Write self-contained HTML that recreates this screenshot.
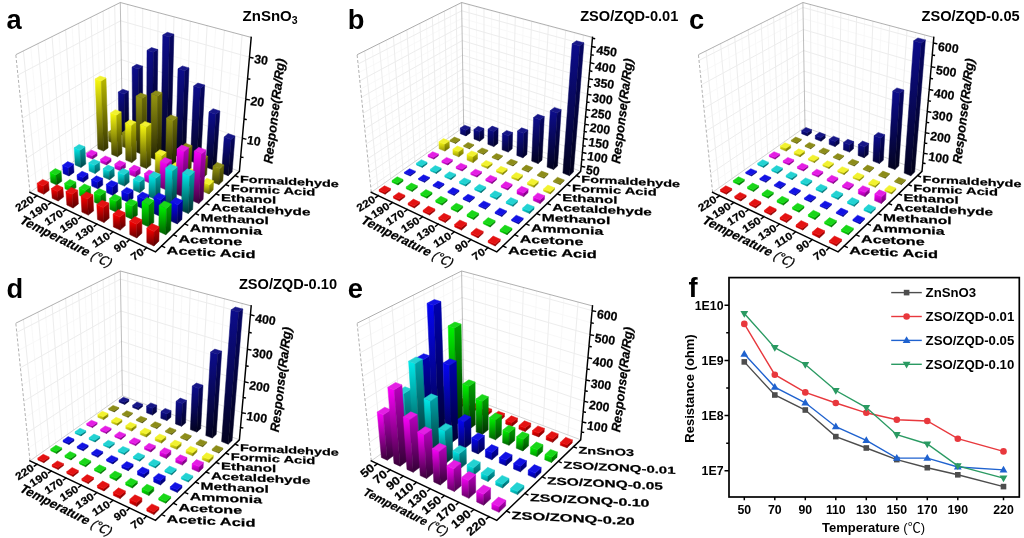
<!DOCTYPE html><html><head><meta charset="utf-8"><title>Figure</title><style>html,body{margin:0;padding:0;background:#fff}svg{display:block;filter:blur(0.4px)}.bars polygon{stroke-width:0.5;stroke-linejoin:round}.Lred0{fill:url(#Lred0);stroke:url(#Lred0)}.Rred0{fill:url(#Rred0);stroke:url(#Rred0)}.Lred1{fill:url(#Lred1);stroke:url(#Lred1)}.Rred1{fill:url(#Rred1);stroke:url(#Rred1)}.Lred2{fill:url(#Lred2);stroke:url(#Lred2)}.Rred2{fill:url(#Rred2);stroke:url(#Rred2)}.Tred{fill:#e41212;stroke:#e41212}.Lgreen0{fill:url(#Lgreen0);stroke:url(#Lgreen0)}.Rgreen0{fill:url(#Rgreen0);stroke:url(#Rgreen0)}.Lgreen1{fill:url(#Lgreen1);stroke:url(#Lgreen1)}.Rgreen1{fill:url(#Rgreen1);stroke:url(#Rgreen1)}.Lgreen2{fill:url(#Lgreen2);stroke:url(#Lgreen2)}.Rgreen2{fill:url(#Rgreen2);stroke:url(#Rgreen2)}.Tgreen{fill:#19d719;stroke:#19d719}.Lblue0{fill:url(#Lblue0);stroke:url(#Lblue0)}.Rblue0{fill:url(#Rblue0);stroke:url(#Rblue0)}.Lblue1{fill:url(#Lblue1);stroke:url(#Lblue1)}.Rblue1{fill:url(#Rblue1);stroke:url(#Rblue1)}.Lblue2{fill:url(#Lblue2);stroke:url(#Lblue2)}.Rblue2{fill:url(#Rblue2);stroke:url(#Rblue2)}.Tblue{fill:#1212e4;stroke:#1212e4}.Lcyan0{fill:url(#Lcyan0);stroke:url(#Lcyan0)}.Rcyan0{fill:url(#Rcyan0);stroke:url(#Rcyan0)}.Lcyan1{fill:url(#Lcyan1);stroke:url(#Lcyan1)}.Rcyan1{fill:url(#Rcyan1);stroke:url(#Rcyan1)}.Lcyan2{fill:url(#Lcyan2);stroke:url(#Lcyan2)}.Rcyan2{fill:url(#Rcyan2);stroke:url(#Rcyan2)}.Tcyan{fill:#23d2d2;stroke:#23d2d2}.Lmag0{fill:url(#Lmag0);stroke:url(#Lmag0)}.Rmag0{fill:url(#Rmag0);stroke:url(#Rmag0)}.Lmag1{fill:url(#Lmag1);stroke:url(#Lmag1)}.Rmag1{fill:url(#Rmag1);stroke:url(#Rmag1)}.Lmag2{fill:url(#Lmag2);stroke:url(#Lmag2)}.Rmag2{fill:url(#Rmag2);stroke:url(#Rmag2)}.Tmag{fill:#e41ee4;stroke:#e41ee4}.Lyel0{fill:url(#Lyel0);stroke:url(#Lyel0)}.Ryel0{fill:url(#Ryel0);stroke:url(#Ryel0)}.Lyel1{fill:url(#Lyel1);stroke:url(#Lyel1)}.Ryel1{fill:url(#Ryel1);stroke:url(#Ryel1)}.Lyel2{fill:url(#Lyel2);stroke:url(#Lyel2)}.Ryel2{fill:url(#Ryel2);stroke:url(#Ryel2)}.Tyel{fill:#f2f230;stroke:#f2f230}.Lolive0{fill:url(#Lolive0);stroke:url(#Lolive0)}.Rolive0{fill:url(#Rolive0);stroke:url(#Rolive0)}.Lolive1{fill:url(#Lolive1);stroke:url(#Lolive1)}.Rolive1{fill:url(#Rolive1);stroke:url(#Rolive1)}.Lolive2{fill:url(#Lolive2);stroke:url(#Lolive2)}.Rolive2{fill:url(#Rolive2);stroke:url(#Rolive2)}.Tolive{fill:#8c8c19;stroke:#8c8c19}.Lnavy0{fill:url(#Lnavy0);stroke:url(#Lnavy0)}.Rnavy0{fill:url(#Rnavy0);stroke:url(#Rnavy0)}.Lnavy1{fill:url(#Lnavy1);stroke:url(#Lnavy1)}.Rnavy1{fill:url(#Rnavy1);stroke:url(#Rnavy1)}.Lnavy2{fill:url(#Lnavy2);stroke:url(#Lnavy2)}.Rnavy2{fill:url(#Rnavy2);stroke:url(#Rnavy2)}.Tnavy{fill:#161687;stroke:#161687}</style></head><body><svg width="1024" height="538" viewBox="0 0 1024 538"><defs><linearGradient id="Lred0" x1="0" y1="0" x2="0" y2="1"><stop offset="0" stop-color="#ff0000"/><stop offset="1" stop-color="#990000"/></linearGradient><linearGradient id="Rred0" x1="0" y1="0" x2="0" y2="1"><stop offset="0" stop-color="#cd0000"/><stop offset="1" stop-color="#730000"/></linearGradient><linearGradient id="Lred1" x1="0" y1="0" x2="0" y2="1"><stop offset="0" stop-color="#ff0000"/><stop offset="1" stop-color="#660000"/></linearGradient><linearGradient id="Rred1" x1="0" y1="0" x2="0" y2="1"><stop offset="0" stop-color="#cd0000"/><stop offset="1" stop-color="#550000"/></linearGradient><linearGradient id="Lred2" x1="0" y1="0" x2="0" y2="1"><stop offset="0" stop-color="#ff0000"/><stop offset="1" stop-color="#3b0000"/></linearGradient><linearGradient id="Rred2" x1="0" y1="0" x2="0" y2="1"><stop offset="0" stop-color="#cd0000"/><stop offset="1" stop-color="#380000"/></linearGradient><linearGradient id="Lgreen0" x1="0" y1="0" x2="0" y2="1"><stop offset="0" stop-color="#00f500"/><stop offset="1" stop-color="#009300"/></linearGradient><linearGradient id="Rgreen0" x1="0" y1="0" x2="0" y2="1"><stop offset="0" stop-color="#00a500"/><stop offset="1" stop-color="#005c00"/></linearGradient><linearGradient id="Lgreen1" x1="0" y1="0" x2="0" y2="1"><stop offset="0" stop-color="#00f500"/><stop offset="1" stop-color="#006200"/></linearGradient><linearGradient id="Rgreen1" x1="0" y1="0" x2="0" y2="1"><stop offset="0" stop-color="#00a500"/><stop offset="1" stop-color="#004500"/></linearGradient><linearGradient id="Lgreen2" x1="0" y1="0" x2="0" y2="1"><stop offset="0" stop-color="#00f500"/><stop offset="1" stop-color="#003800"/></linearGradient><linearGradient id="Rgreen2" x1="0" y1="0" x2="0" y2="1"><stop offset="0" stop-color="#00a500"/><stop offset="1" stop-color="#002d00"/></linearGradient><linearGradient id="Lblue0" x1="0" y1="0" x2="0" y2="1"><stop offset="0" stop-color="#0505f5"/><stop offset="1" stop-color="#030393"/></linearGradient><linearGradient id="Rblue0" x1="0" y1="0" x2="0" y2="1"><stop offset="0" stop-color="#0000af"/><stop offset="1" stop-color="#000062"/></linearGradient><linearGradient id="Lblue1" x1="0" y1="0" x2="0" y2="1"><stop offset="0" stop-color="#0505f5"/><stop offset="1" stop-color="#020262"/></linearGradient><linearGradient id="Rblue1" x1="0" y1="0" x2="0" y2="1"><stop offset="0" stop-color="#0000af"/><stop offset="1" stop-color="#000049"/></linearGradient><linearGradient id="Lblue2" x1="0" y1="0" x2="0" y2="1"><stop offset="0" stop-color="#0505f5"/><stop offset="1" stop-color="#010138"/></linearGradient><linearGradient id="Rblue2" x1="0" y1="0" x2="0" y2="1"><stop offset="0" stop-color="#0000af"/><stop offset="1" stop-color="#000030"/></linearGradient><linearGradient id="Lcyan0" x1="0" y1="0" x2="0" y2="1"><stop offset="0" stop-color="#00ebeb"/><stop offset="1" stop-color="#008d8d"/></linearGradient><linearGradient id="Rcyan0" x1="0" y1="0" x2="0" y2="1"><stop offset="0" stop-color="#00a5aa"/><stop offset="1" stop-color="#005c5f"/></linearGradient><linearGradient id="Lcyan1" x1="0" y1="0" x2="0" y2="1"><stop offset="0" stop-color="#00ebeb"/><stop offset="1" stop-color="#005e5e"/></linearGradient><linearGradient id="Rcyan1" x1="0" y1="0" x2="0" y2="1"><stop offset="0" stop-color="#00a5aa"/><stop offset="1" stop-color="#004547"/></linearGradient><linearGradient id="Lcyan2" x1="0" y1="0" x2="0" y2="1"><stop offset="0" stop-color="#00ebeb"/><stop offset="1" stop-color="#003636"/></linearGradient><linearGradient id="Rcyan2" x1="0" y1="0" x2="0" y2="1"><stop offset="0" stop-color="#00a5aa"/><stop offset="1" stop-color="#002d2e"/></linearGradient><linearGradient id="Lmag0" x1="0" y1="0" x2="0" y2="1"><stop offset="0" stop-color="#fa00fa"/><stop offset="1" stop-color="#960096"/></linearGradient><linearGradient id="Rmag0" x1="0" y1="0" x2="0" y2="1"><stop offset="0" stop-color="#b900be"/><stop offset="1" stop-color="#68006a"/></linearGradient><linearGradient id="Lmag1" x1="0" y1="0" x2="0" y2="1"><stop offset="0" stop-color="#fa00fa"/><stop offset="1" stop-color="#640064"/></linearGradient><linearGradient id="Rmag1" x1="0" y1="0" x2="0" y2="1"><stop offset="0" stop-color="#b900be"/><stop offset="1" stop-color="#4d004f"/></linearGradient><linearGradient id="Lmag2" x1="0" y1="0" x2="0" y2="1"><stop offset="0" stop-color="#fa00fa"/><stop offset="1" stop-color="#3a003a"/></linearGradient><linearGradient id="Rmag2" x1="0" y1="0" x2="0" y2="1"><stop offset="0" stop-color="#b900be"/><stop offset="1" stop-color="#320034"/></linearGradient><linearGradient id="Lyel0" x1="0" y1="0" x2="0" y2="1"><stop offset="0" stop-color="#fafa0f"/><stop offset="1" stop-color="#969609"/></linearGradient><linearGradient id="Ryel0" x1="0" y1="0" x2="0" y2="1"><stop offset="0" stop-color="#b9b900"/><stop offset="1" stop-color="#686800"/></linearGradient><linearGradient id="Lyel1" x1="0" y1="0" x2="0" y2="1"><stop offset="0" stop-color="#fafa0f"/><stop offset="1" stop-color="#646406"/></linearGradient><linearGradient id="Ryel1" x1="0" y1="0" x2="0" y2="1"><stop offset="0" stop-color="#b9b900"/><stop offset="1" stop-color="#4d4d00"/></linearGradient><linearGradient id="Lyel2" x1="0" y1="0" x2="0" y2="1"><stop offset="0" stop-color="#fafa0f"/><stop offset="1" stop-color="#3a3a03"/></linearGradient><linearGradient id="Ryel2" x1="0" y1="0" x2="0" y2="1"><stop offset="0" stop-color="#b9b900"/><stop offset="1" stop-color="#323200"/></linearGradient><linearGradient id="Lolive0" x1="0" y1="0" x2="0" y2="1"><stop offset="0" stop-color="#96960f"/><stop offset="1" stop-color="#5a5a09"/></linearGradient><linearGradient id="Rolive0" x1="0" y1="0" x2="0" y2="1"><stop offset="0" stop-color="#6e6e05"/><stop offset="1" stop-color="#3e3e03"/></linearGradient><linearGradient id="Lolive1" x1="0" y1="0" x2="0" y2="1"><stop offset="0" stop-color="#96960f"/><stop offset="1" stop-color="#3c3c06"/></linearGradient><linearGradient id="Rolive1" x1="0" y1="0" x2="0" y2="1"><stop offset="0" stop-color="#6e6e05"/><stop offset="1" stop-color="#2e2e02"/></linearGradient><linearGradient id="Lolive2" x1="0" y1="0" x2="0" y2="1"><stop offset="0" stop-color="#96960f"/><stop offset="1" stop-color="#222203"/></linearGradient><linearGradient id="Rolive2" x1="0" y1="0" x2="0" y2="1"><stop offset="0" stop-color="#6e6e05"/><stop offset="1" stop-color="#1e1e01"/></linearGradient><linearGradient id="Lnavy0" x1="0" y1="0" x2="0" y2="1"><stop offset="0" stop-color="#0c0c8c"/><stop offset="1" stop-color="#070754"/></linearGradient><linearGradient id="Rnavy0" x1="0" y1="0" x2="0" y2="1"><stop offset="0" stop-color="#060664"/><stop offset="1" stop-color="#030338"/></linearGradient><linearGradient id="Lnavy1" x1="0" y1="0" x2="0" y2="1"><stop offset="0" stop-color="#0c0c8c"/><stop offset="1" stop-color="#050538"/></linearGradient><linearGradient id="Rnavy1" x1="0" y1="0" x2="0" y2="1"><stop offset="0" stop-color="#060664"/><stop offset="1" stop-color="#02022a"/></linearGradient><linearGradient id="Lnavy2" x1="0" y1="0" x2="0" y2="1"><stop offset="0" stop-color="#0c0c8c"/><stop offset="1" stop-color="#030320"/></linearGradient><linearGradient id="Rnavy2" x1="0" y1="0" x2="0" y2="1"><stop offset="0" stop-color="#060664"/><stop offset="1" stop-color="#02021b"/></linearGradient></defs><rect width="1024" height="538" fill="#fff"/><path d="M135.8,132.2 L135.1,6.4M149.5,137.4 L150.4,10.5M163.6,142.7 L166,14.7M178,148.2 L182.1,19M192.8,153.7 L198.7,23.4M207.9,159.5 L215.7,27.9M223.5,165.3 L233.2,32.6M43,183.1 L30.8,47.2M55.6,174.2 L45.1,40M67.7,165.7 L58.9,33.1M79.4,157.4 L72.1,26.5M90.7,149.5 L84.9,20.2M101.6,141.8 L97.1,14.1M112.2,134.4 L108.9,8.2M28.5,177.5 L122.2,113.6 L240.7,156.9M24.5,138.7 L121.6,78.1 L244,119M20.2,97.1 L120.9,40.5 L247.6,78.6" fill="none" stroke="#f6f6f6" stroke-width="0.8"/><path d="M129.1,129.7 L127.7,4.4M142.6,134.8 L142.7,8.4M156.5,140.1 L158.2,12.6M170.8,145.4 L174,16.8M185.4,150.9 L190.3,21.2M200.3,156.6 L207.1,25.6M215.7,162.4 L224.4,30.2M231.4,168.3 L242.1,35M36.6,187.6 L23.4,50.9M49.4,178.6 L38,43.6M61.7,169.9 L52.1,36.6M73.6,161.5 L65.6,29.8M85.1,153.4 L78.6,23.3M96.2,145.6 L91,17.1M107,138 L103.1,11.1M117.3,130.7 L114.7,5.3M26.5,158.4 L121.9,96.1 L242.3,138.3M22.4,118.3 L121.3,59.6 L245.8,99.1M17.9,75.1 L120.6,20.8 L249.5,57.2" fill="none" stroke="#ededed" stroke-width="1"/><g fill="none" stroke="#858585" stroke-width="0.65"><path d="M15.8,54.7 L120.3,2.5 L251.2,37.4"/><path d="M122.4,127.2 L120.3,2.5" stroke="#999"/><path d="M30,192.3 L15.8,54.7" stroke-dasharray="3 2" stroke="#888"/><path d="M30,192.3 L122.4,127.2 L239.4,171.3" stroke="#bbb"/></g><g class="bars"><polygon class="Lnavy2" points="119.1,133.7 124.7,135.9 124.1,94.1 118.3,92.1"/><polygon class="Rnavy2" points="124.7,135.9 128.9,132.9 128.4,91.2 124.1,94.1"/><polygon class="Tnavy" points="118.3,92.1 124.1,94.1 128.4,91.2 122.7,89.2"/><polygon class="Lnavy2" points="132.7,139 138.4,141.2 138.2,69 132.1,67.1"/><polygon class="Rnavy2" points="138.4,141.2 142.6,138 142.6,66.2 138.2,69"/><polygon class="Tnavy" points="132.1,67.1 138.2,69 142.6,66.2 136.6,64.3"/><polygon class="Lnavy2" points="146.6,144.3 152.5,146.6 153.3,52.2 147,50.3"/><polygon class="Rnavy2" points="152.5,146.6 156.6,143.4 157.8,49.5 153.3,52.2"/><polygon class="Tnavy" points="147,50.3 153.3,52.2 157.8,49.5 151.5,47.6"/><polygon class="Lnavy2" points="160.8,149.8 166.9,152.1 169.4,36.9 162.8,35"/><polygon class="Rnavy2" points="166.9,152.1 170.9,148.8 173.9,34.2 169.4,36.9"/><polygon class="Tnavy" points="162.8,35 169.4,36.9 173.9,34.2 167.3,32.3"/><polygon class="Lnavy2" points="175.5,155.4 181.6,157.8 184.7,70.8 178,68.8"/><polygon class="Rnavy2" points="181.6,157.8 185.6,154.4 189,67.9 184.7,70.8"/><polygon class="Tnavy" points="178,68.8 184.7,70.8 189,67.9 182.4,65.9"/><polygon class="Lnavy2" points="190.4,161.1 196.8,163.6 200.5,88.2 193.7,86"/><polygon class="Rnavy2" points="196.8,163.6 200.7,160.2 204.7,85.1 200.5,88.2"/><polygon class="Tnavy" points="193.7,86 200.5,88.2 204.7,85.1 197.9,83"/><polygon class="Lnavy2" points="205.8,167.1 212.3,169.5 215.8,114.2 209,111.9"/><polygon class="Rnavy2" points="212.3,169.5 216.2,166 219.9,111 215.8,114.2"/><polygon class="Tnavy" points="209,111.9 215.8,114.2 219.9,111 213.1,108.7"/><polygon class="Lnavy2" points="221.6,173.1 228.2,175.7 231.1,139.5 224.2,137"/><polygon class="Rnavy2" points="228.2,175.7 232.1,172.1 235,136 231.1,139.5"/><polygon class="Tnavy" points="224.2,137 231.1,139.5 235,136 228.1,133.6"/><polygon class="Lolive1" points="108.7,141.2 114.3,143.4 114.1,134.1 108.4,131.9"/><polygon class="Rolive1" points="114.3,143.4 118.7,140.2 118.5,131 114.1,134.1"/><polygon class="Tolive" points="108.4,131.9 114.1,134.1 118.5,131 112.8,128.8"/><polygon class="Lolive1" points="122.4,146.5 128.1,148.8 128,134.7 122.1,132.5"/><polygon class="Rolive1" points="128.1,148.8 132.4,145.6 132.3,131.6 128,134.7"/><polygon class="Tolive" points="122.1,132.5 128,134.7 132.3,131.6 126.5,129.4"/><polygon class="Lolive2" points="136.4,152.1 142.3,154.4 142.3,98.2 136.1,96.1"/><polygon class="Rolive2" points="142.3,154.4 146.6,151.1 146.8,95.2 142.3,98.2"/><polygon class="Tolive" points="136.1,96.1 142.3,98.2 146.8,95.2 140.6,93.1"/><polygon class="Lolive2" points="150.8,157.7 156.8,160.1 157.7,95.9 151.3,93.7"/><polygon class="Rolive2" points="156.8,160.1 161,156.8 162.1,92.8 157.7,95.9"/><polygon class="Tolive" points="151.3,93.7 157.7,95.9 162.1,92.8 155.7,90.7"/><polygon class="Lolive2" points="165.5,163.6 171.7,166 172.9,120.5 166.5,118.1"/><polygon class="Rolive2" points="171.7,166 175.9,162.6 177.3,117.2 172.9,120.5"/><polygon class="Tolive" points="166.5,118.1 172.9,120.5 177.3,117.2 170.8,114.9"/><polygon class="Lolive1" points="180.6,169.5 187,172.1 187.9,149.1 181.4,146.7"/><polygon class="Rolive1" points="187,172.1 191.1,168.5 192.1,145.7 187.9,149.1"/><polygon class="Tolive" points="181.4,146.7 187.9,149.1 192.1,145.7 185.6,143.3"/><polygon class="Lolive1" points="196.1,175.7 202.7,178.2 203.7,159.9 197,157.3"/><polygon class="Rolive1" points="202.7,178.2 206.7,174.6 207.8,156.3 203.7,159.9"/><polygon class="Tolive" points="197,157.3 203.7,159.9 207.8,156.3 201.2,153.8"/><polygon class="Lolive1" points="212.1,181.9 218.8,184.6 219.9,168.6 213.1,166"/><polygon class="Rolive1" points="218.8,184.6 222.8,180.9 223.9,164.9 219.9,168.6"/><polygon class="Tolive" points="213.1,166 219.9,168.6 223.9,164.9 217.1,162.4"/><polygon class="Lyel2" points="97.9,148.8 103.6,151.1 101.2,80.9 95.2,78.9"/><polygon class="Ryel2" points="103.6,151.1 108.1,147.9 106,78 101.2,80.9"/><polygon class="Tyel" points="95.2,78.9 101.2,80.9 106,78 100,76"/><polygon class="Lyel2" points="111.7,154.4 117.5,156.8 116.6,115.1 110.6,112.9"/><polygon class="Ryel2" points="117.5,156.8 122,153.4 121.2,111.9 116.6,115.1"/><polygon class="Tyel" points="110.6,112.9 116.6,115.1 121.2,111.9 115.2,109.7"/><polygon class="Lyel2" points="125.8,160.1 131.8,162.6 131.5,125.3 125.3,123"/><polygon class="Ryel2" points="131.8,162.6 136.2,159.1 136,122.1 131.5,125.3"/><polygon class="Tyel" points="125.3,123 131.5,125.3 136,122.1 129.9,119.8"/><polygon class="Lyel2" points="140.3,166 146.4,168.5 146.6,127 140.3,124.7"/><polygon class="Ryel2" points="146.4,168.5 150.8,165 151.1,123.7 146.6,127"/><polygon class="Tyel" points="140.3,124.7 146.6,127 151.1,123.7 144.8,121.4"/><polygon class="Lyel1" points="155.2,172 161.5,174.6 161.8,155.7 155.4,153.2"/><polygon class="Ryel1" points="161.5,174.6 165.8,171 166.2,152.2 161.8,155.7"/><polygon class="Tyel" points="155.4,153.2 161.8,155.7 166.2,152.2 159.8,149.7"/><polygon class="Lyel1" points="170.4,178.2 176.9,180.8 177.3,168.6 170.8,166.1"/><polygon class="Ryel1" points="176.9,180.8 181.1,177.2 181.6,165 177.3,168.6"/><polygon class="Tyel" points="170.8,166.1 177.3,168.6 181.6,165 175.1,162.5"/><polygon class="Lyel1" points="186.1,184.6 192.7,187.3 193.3,175 186.6,172.3"/><polygon class="Ryel1" points="192.7,187.3 196.9,183.5 197.5,171.2 193.3,175"/><polygon class="Tyel" points="186.6,172.3 193.3,175 197.5,171.2 190.9,168.6"/><polygon class="Lyel1" points="202.2,191.1 209,193.9 209.6,184.7 202.7,182"/><polygon class="Ryel1" points="209,193.9 213.1,190 213.7,180.9 209.6,184.7"/><polygon class="Tyel" points="202.7,182 209.6,184.7 213.7,180.9 206.9,178.2"/><polygon class="Lmag0" points="86.8,156.7 92.5,159.1 92.3,155.7 86.6,153.3"/><polygon class="Rmag0" points="92.5,159.1 97.1,155.8 97,152.4 92.3,155.7"/><polygon class="Tmag" points="86.6,153.3 92.3,155.7 97,152.4 91.3,150"/><polygon class="Lmag0" points="100.6,162.5 106.5,165 106.4,161.8 100.5,159.3"/><polygon class="Rmag0" points="106.5,165 111.1,161.5 111,158.3 106.4,161.8"/><polygon class="Tmag" points="100.5,159.3 106.4,161.8 111,158.3 105.2,155.9"/><polygon class="Lmag0" points="114.9,168.5 120.9,171 120.8,166.5 114.8,164.1"/><polygon class="Rmag0" points="120.9,171 125.5,167.4 125.4,163 120.8,166.5"/><polygon class="Tmag" points="114.8,164.1 120.8,166.5 125.4,163 119.4,160.6"/><polygon class="Lmag0" points="129.5,174.6 135.7,177.1 135.6,171.2 129.4,168.7"/><polygon class="Rmag0" points="135.7,177.1 140.2,173.5 140.2,167.6 135.6,171.2"/><polygon class="Tmag" points="129.4,168.7 135.6,171.2 140.2,167.6 134,165.1"/><polygon class="Lmag0" points="144.5,180.8 150.8,183.5 150.9,176.1 144.5,173.5"/><polygon class="Rmag0" points="150.8,183.5 155.3,179.7 155.4,172.5 150.9,176.1"/><polygon class="Tmag" points="144.5,173.5 150.9,176.1 155.4,172.5 149,169.9"/><polygon class="Lmag1" points="159.9,187.2 166.4,190 167,163.8 160.3,161.2"/><polygon class="Rmag1" points="166.4,190 170.8,186.1 171.5,160.1 167,163.8"/><polygon class="Tmag" points="160.3,161.2 167,163.8 171.5,160.1 164.8,157.5"/><polygon class="Lmag2" points="175.7,193.8 182.4,196.6 184.1,151.4 177.1,148.8"/><polygon class="Rmag2" points="182.4,196.6 186.7,192.7 188.6,147.7 184.1,151.4"/><polygon class="Tmag" points="177.1,148.8 184.1,151.4 188.6,147.7 181.6,145.1"/><polygon class="Lmag2" points="192,200.6 198.8,203.5 201.5,153.7 194.3,151"/><polygon class="Rmag2" points="198.8,203.5 203.1,199.4 205.9,149.9 201.5,153.7"/><polygon class="Tmag" points="194.3,151 201.5,153.7 205.9,149.9 198.7,147.3"/><polygon class="Lcyan1" points="75.2,165 81,167.4 80,150.2 74.2,147.8"/><polygon class="Rcyan1" points="81,167.4 85.8,164 84.9,146.8 80,150.2"/><polygon class="Tcyan" points="74.2,147.8 80,150.2 84.9,146.8 79.1,144.4"/><polygon class="Lcyan0" points="89.2,171 95.1,173.5 94.7,165.3 88.8,162.8"/><polygon class="Rcyan0" points="95.1,173.5 99.9,169.9 99.6,161.8 94.7,165.3"/><polygon class="Tcyan" points="88.8,162.8 94.7,165.3 99.6,161.8 93.6,159.3"/><polygon class="Lcyan1" points="103.5,177.1 109.6,179.7 109.3,171.2 103.2,168.6"/><polygon class="Rcyan1" points="109.6,179.7 114.3,176.1 114.1,167.6 109.3,171.2"/><polygon class="Tcyan" points="103.2,168.6 109.3,171.2 114.1,167.6 108,165.1"/><polygon class="Lcyan1" points="118.3,183.4 124.5,186.1 124.3,174.8 118,172.2"/><polygon class="Rcyan1" points="124.5,186.1 129.2,182.3 129,171.1 124.3,174.8"/><polygon class="Tcyan" points="118,172.2 124.3,174.8 129,171.1 122.8,168.5"/><polygon class="Lcyan1" points="133.4,189.9 139.8,192.7 139.8,182 133.3,179.3"/><polygon class="Rcyan1" points="139.8,192.7 144.4,188.8 144.4,178.2 139.8,182"/><polygon class="Tcyan" points="133.3,179.3 139.8,182 144.4,178.2 138,175.6"/><polygon class="Lcyan1" points="148.9,196.6 155.5,199.4 155.8,178.3 149.1,175.5"/><polygon class="Rcyan1" points="155.5,199.4 160.1,195.4 160.4,174.4 155.8,178.3"/><polygon class="Tcyan" points="149.1,175.5 155.8,178.3 160.4,174.4 153.7,171.7"/><polygon class="Lcyan2" points="164.9,203.4 171.7,206.3 172.6,170.8 165.7,168"/><polygon class="Rcyan2" points="171.7,206.3 176.2,202.3 177.3,166.9 172.6,170.8"/><polygon class="Tcyan" points="165.7,168 172.6,170.8 177.3,166.9 170.3,164.2"/><polygon class="Lcyan2" points="181.3,210.5 188.3,213.5 189.9,175.7 182.7,172.8"/><polygon class="Rcyan2" points="188.3,213.5 192.7,209.3 194.5,171.6 189.9,175.7"/><polygon class="Tcyan" points="182.7,172.8 189.9,175.7 194.5,171.6 187.3,168.8"/><polygon class="Lblue0" points="63.2,173.5 69,176 68.5,167.7 62.6,165.2"/><polygon class="Rblue0" points="69,176 74,172.4 73.5,164.1 68.5,167.7"/><polygon class="Tblue" points="62.6,165.2 68.5,167.7 73.5,164.1 67.7,161.6"/><polygon class="Lblue0" points="77.3,179.7 83.3,182.3 83,177.5 77,174.9"/><polygon class="Rblue0" points="83.3,182.3 88.2,178.6 88,173.8 83,177.5"/><polygon class="Tblue" points="77,174.9 83,177.5 88,173.8 82,171.2"/><polygon class="Lblue0" points="91.8,186.1 97.9,188.8 97.6,182.2 91.5,179.5"/><polygon class="Rblue0" points="97.9,188.8 102.8,185 102.6,178.4 97.6,182.2"/><polygon class="Tblue" points="91.5,179.5 97.6,182.2 102.6,178.4 96.4,175.8"/><polygon class="Lblue0" points="106.6,192.6 112.9,195.4 112.7,187 106.3,184.3"/><polygon class="Rblue0" points="112.9,195.4 117.8,191.5 117.6,183.1 112.7,187"/><polygon class="Tblue" points="106.3,184.3 112.7,187 117.6,183.1 111.3,180.4"/><polygon class="Lblue0" points="121.9,199.4 128.3,202.2 128.2,194.1 121.7,191.3"/><polygon class="Rblue0" points="128.3,202.2 133.1,198.2 133.1,190.2 128.2,194.1"/><polygon class="Tblue" points="121.7,191.3 128.2,194.1 133.1,190.2 126.6,187.4"/><polygon class="Lblue1" points="137.5,206.3 144.2,209.2 144.2,198.9 137.5,196"/><polygon class="Rblue1" points="144.2,209.2 148.9,205.1 149,194.9 144.2,198.9"/><polygon class="Tblue" points="137.5,196 144.2,198.9 149,194.9 142.3,192"/><polygon class="Lblue1" points="153.7,213.4 160.5,216.5 160.8,200 153.9,197.1"/><polygon class="Rblue1" points="160.5,216.5 165.2,212.2 165.5,195.9 160.8,200"/><polygon class="Tblue" points="153.9,197.1 160.8,200 165.5,195.9 158.6,192.9"/><polygon class="Lblue1" points="170.3,220.8 177.3,223.9 177.9,204.8 170.8,201.8"/><polygon class="Rblue1" points="177.3,223.9 181.9,219.5 182.6,200.6 177.9,204.8"/><polygon class="Tblue" points="170.8,201.8 177.9,204.8 182.6,200.6 175.5,197.6"/><polygon class="Lgreen1" points="50.8,182.3 56.7,185 55.9,174.9 50,172.3"/><polygon class="Rgreen1" points="56.7,185 61.8,181.2 61.1,171.2 55.9,174.9"/><polygon class="Tgreen" points="50,172.3 55.9,174.9 61.1,171.2 55.3,168.6"/><polygon class="Lgreen0" points="65,188.8 71,191.5 70.6,186 64.6,183.3"/><polygon class="Rgreen0" points="71,191.5 76.1,187.6 75.8,182.1 70.6,186"/><polygon class="Tgreen" points="64.6,183.3 70.6,186 75.8,182.1 69.8,179.5"/><polygon class="Lgreen0" points="79.6,195.4 85.7,198.2 85.3,190.6 79.1,187.9"/><polygon class="Rgreen0" points="85.7,198.2 90.8,194.2 90.5,186.7 85.3,190.6"/><polygon class="Tgreen" points="79.1,187.9 85.3,190.6 90.5,186.7 84.3,184"/><polygon class="Lgreen1" points="94.5,202.2 100.8,205.1 100.5,195.5 94.1,192.6"/><polygon class="Rgreen1" points="100.8,205.1 105.9,201 105.6,191.4 100.5,195.5"/><polygon class="Tgreen" points="94.1,192.6 100.5,195.5 105.6,191.4 99.2,188.6"/><polygon class="Lgreen1" points="109.9,209.2 116.4,212.2 116.1,201.3 109.6,198.4"/><polygon class="Rgreen1" points="116.4,212.2 121.4,208 121.2,197.2 116.1,201.3"/><polygon class="Tgreen" points="109.6,198.4 116.1,201.3 121.2,197.2 114.6,194.3"/><polygon class="Lgreen1" points="125.7,216.4 132.4,219.5 132.3,206.2 125.5,203.2"/><polygon class="Rgreen1" points="132.4,219.5 137.4,215.2 137.3,202 132.3,206.2"/><polygon class="Tgreen" points="125.5,203.2 132.3,206.2 137.3,202 130.5,199"/><polygon class="Lgreen1" points="142,223.8 148.9,227 149,204.8 142,201.8"/><polygon class="Rgreen1" points="148.9,227 153.8,222.6 154,200.5 149,204.8"/><polygon class="Tgreen" points="142,201.8 149,204.8 154,200.5 147,197.5"/><polygon class="Lgreen1" points="158.7,231.5 165.8,234.7 166.5,208.4 159.2,205.2"/><polygon class="Rgreen1" points="165.8,234.7 170.7,230.1 171.4,204 166.5,208.4"/><polygon class="Tgreen" points="159.2,205.2 166.5,208.4 171.4,204 164.1,200.9"/><polygon class="Lred0" points="37.9,191.5 43.8,194.2 43.1,186 37.2,183.2"/><polygon class="Rred0" points="43.8,194.2 49.2,190.3 48.5,182.1 43.1,186"/><polygon class="Tred" points="37.2,183.2 43.1,186 48.5,182.1 42.6,179.4"/><polygon class="Lred1" points="52.2,198.2 58.2,201 57.5,191.4 51.4,188.6"/><polygon class="Rred1" points="58.2,201 63.6,197 62.9,187.5 57.5,191.4"/><polygon class="Tred" points="51.4,188.6 57.5,191.4 62.9,187.5 56.8,184.7"/><polygon class="Lred1" points="66.9,205 73.1,208 72.2,194.2 65.9,191.4"/><polygon class="Rred1" points="73.1,208 78.4,203.9 77.6,190.2 72.2,194.2"/><polygon class="Tred" points="65.9,191.4 72.2,194.2 77.6,190.2 71.3,187.4"/><polygon class="Lred1" points="81.9,212.1 88.3,215.1 87.5,199 81,196"/><polygon class="Rred1" points="88.3,215.1 93.6,210.9 92.9,194.8 87.5,199"/><polygon class="Tred" points="81,196 87.5,199 92.9,194.8 86.4,191.9"/><polygon class="Lred1" points="97.5,219.4 104,222.5 103.5,207.4 96.8,204.4"/><polygon class="Rred1" points="104,222.5 109.2,218.2 108.8,203.1 103.5,207.4"/><polygon class="Tred" points="96.8,204.4 103.5,207.4 108.8,203.1 102.1,200.2"/><polygon class="Lred1" points="113.4,226.9 120.2,230.1 119.9,217.1 113.1,214"/><polygon class="Rred1" points="120.2,230.1 125.3,225.6 125.1,212.7 119.9,217.1"/><polygon class="Tred" points="113.1,214 119.9,217.1 125.1,212.7 118.3,209.6"/><polygon class="Lred1" points="129.8,234.6 136.8,237.9 136.7,224.3 129.7,221.1"/><polygon class="Rred1" points="136.8,237.9 141.9,233.3 141.9,219.8 136.7,224.3"/><polygon class="Tred" points="129.7,221.1 136.7,224.3 141.9,219.8 134.9,216.6"/><polygon class="Lred1" points="146.8,242.6 153.9,246 154.1,231.5 146.8,228.1"/><polygon class="Rred1" points="153.9,246 158.9,241.2 159.2,226.8 154.1,231.5"/><polygon class="Tred" points="146.8,228.1 154.1,231.5 159.2,226.8 151.9,223.5"/></g><g fill="none" stroke="#000" stroke-width="1.45" stroke-linecap="square"><path d="M30,192.3 L155.5,251.8 L239.4,171.3 L251.2,37.4M37,195.6 L34.3,197.6M51.4,202.4 L48.6,204.4M66.2,209.4 L63.4,211.5M81.4,216.6 L78.7,218.8M97,224 L94.3,226.3M113.1,231.7 L110.4,234M129.7,239.5 L127.1,241.9M146.7,247.6 L144.2,250.1M161.5,246 L164.6,247.4M173.3,234.7 L176.4,236.1M184.6,223.9 L187.6,225.2M195.4,213.5 L198.4,214.8M205.9,203.5 L208.8,204.7M215.9,193.9 L218.8,195M225.6,184.6 L228.5,185.7M234.9,175.7 L237.8,176.8M242.3,138.3 L245.7,139.1M245.8,99.1 L249.2,99.9M249.5,57.2 L252.9,58M240.7,156.9 L242.8,157.4M244,119 L246.1,119.5M247.6,78.6 L249.7,79.1"/></g><g font-family="Liberation Sans, sans-serif" font-weight="bold" fill="#000" stroke="#000" stroke-width="0.25"><text transform="translate(246.6,144.1) rotate(8)" font-size="12.3">10</text><text transform="translate(250.1,104.9) rotate(8)" font-size="12.3">20</text><text transform="translate(253.8,63) rotate(8)" font-size="12.3">30</text><text transform="translate(34.9,201.2) rotate(-33) scale(1.08,0.96)" text-anchor="end" font-size="11">220</text><text transform="translate(49.2,208) rotate(-33) scale(1.08,0.96)" text-anchor="end" font-size="11">190</text><text transform="translate(64,215.1) rotate(-33) scale(1.08,0.96)" text-anchor="end" font-size="11">170</text><text transform="translate(79.3,222.4) rotate(-33) scale(1.08,0.96)" text-anchor="end" font-size="11">150</text><text transform="translate(94.9,229.9) rotate(-33) scale(1.08,0.96)" text-anchor="end" font-size="11">130</text><text transform="translate(111,237.6) rotate(-33) scale(1.08,0.96)" text-anchor="end" font-size="11">110</text><text transform="translate(127.7,245.5) rotate(-33) scale(1.08,0.96)" text-anchor="end" font-size="11">90</text><text transform="translate(144.8,253.7) rotate(-33) scale(1.08,0.96)" text-anchor="end" font-size="11">70</text><text transform="matrix(1.370,0.069,0,0.900,166.6,253.9)" font-size="12">Acetic Acid</text><text transform="matrix(1.347,0.067,0,0.888,178.4,242.4)" font-size="12">Acetone</text><text transform="matrix(1.323,0.066,0,0.876,189.7,231.4)" font-size="12">Ammonia</text><text transform="matrix(1.300,0.065,0,0.864,200.5,220.9)" font-size="12">Methanol</text><text transform="matrix(1.276,0.064,0,0.852,211,210.7)" font-size="12">Acetaldehyde</text><text transform="matrix(1.253,0.063,0,0.840,221,200.9)" font-size="12">Ethanol</text><text transform="matrix(1.229,0.061,0,0.828,230.7,191.5)" font-size="12">Formic Acid</text><text transform="matrix(1.206,0.060,0,0.816,240,182.4)" font-size="12">Formaldehyde</text><text transform="translate(63.5,245) rotate(26.5) skewX(-14)" text-anchor="middle" font-size="12.7">Temperature <tspan font-weight="normal" font-family="Liberation Sans, Noto Sans CJK SC, sans-serif">(℃)</tspan></text><text transform="translate(278.6,111.5) rotate(-83)" text-anchor="middle" font-style="italic" font-size="12.7">Response(Ra/Rg)</text><text x="242.6" y="20.9" font-size="14.6" stroke="none"><tspan font-size="15">ZnSnO</tspan><tspan font-size="10.5" dy="3.5">3</tspan></text><text x="6.5" y="29" font-size="27.3" stroke="none">a</text></g><path d="M477.1,132.2 L476.4,6.4M490.8,137.4 L491.7,10.5M504.9,142.7 L507.3,14.7M519.3,148.2 L523.4,19M534.1,153.7 L540,23.4M549.2,159.5 L557,27.9M564.8,165.3 L574.5,32.6M384.3,183.1 L372.1,47.2M396.9,174.2 L386.4,40M409,165.7 L400.2,33.1M420.7,157.4 L413.4,26.5M432,149.5 L426.2,20.2M442.9,141.8 L438.4,14.1M453.5,134.4 L450.2,8.2M370,180.1 L463.5,116 L581.8,159.4M368.6,165.9 L463.3,103 L583,145.6M367.1,151.3 L463.1,89.7 L584.2,131.4M365.5,136.4 L462.8,76.1 L585.5,116.8M364,121.1 L462.6,62.1 L586.8,101.9M362.3,105.3 L462.4,47.9 L588.2,86.5M360.7,89.1 L462.1,33.3 L589.6,70.8M359,72.5 L461.9,18.4 L591,54.6M357.2,55.4 L461.6,3.1 L592.4,38.1" fill="none" stroke="#f6f6f6" stroke-width="0.8"/><path d="M470.4,129.7 L469,4.4M483.9,134.8 L484,8.4M497.8,140.1 L499.5,12.6M512.1,145.4 L515.3,16.8M526.7,150.9 L531.6,21.2M541.6,156.6 L548.4,25.6M557,162.4 L565.7,30.2M572.7,168.3 L583.4,35M377.9,187.6 L364.7,50.9M390.7,178.6 L379.3,43.6M403,169.9 L393.4,36.6M414.9,161.5 L406.9,29.8M426.4,153.4 L419.9,23.3M437.5,145.6 L432.3,17.1M448.3,138 L444.4,11.1M458.6,130.7 L456,5.3M370.7,187 L463.6,122.4 L581.2,166.2M369.3,173 L463.4,109.5 L582.4,152.5M367.8,158.7 L463.2,96.3 L583.6,138.5M366.3,143.9 L462.9,82.9 L584.9,124.1M364.8,128.8 L462.7,69.1 L586.2,109.4M363.2,113.2 L462.5,55.1 L587.5,94.2M361.5,97.3 L462.2,40.6 L588.9,78.7M359.8,80.9 L462,25.9 L590.3,62.8M358.1,64 L461.7,10.8 L591.7,46.4" fill="none" stroke="#ededed" stroke-width="1"/><g fill="none" stroke="#858585" stroke-width="0.65"><path d="M357.1,54.7 L461.6,2.5 L592.5,37.4"/><path d="M463.7,127.2 L461.6,2.5" stroke="#999"/><path d="M371.3,192.3 L357.1,54.7" stroke-dasharray="3 2" stroke="#888"/><path d="M371.3,192.3 L463.7,127.2 L580.7,171.3" stroke="#bbb"/></g><g class="bars"><polygon class="Lnavy0" points="460.4,133.7 466,135.9 465.9,130.3 460.3,128.1"/><polygon class="Rnavy0" points="466,135.9 470.2,132.9 470.2,127.3 465.9,130.3"/><polygon class="Tnavy" points="460.3,128.1 465.9,130.3 470.2,127.3 464.6,125.2"/><polygon class="Lnavy1" points="474,139 479.7,141.2 479.7,131.5 473.9,129.4"/><polygon class="Rnavy1" points="479.7,141.2 483.9,138 483.9,128.5 479.7,131.5"/><polygon class="Tnavy" points="473.9,129.4 479.7,131.5 483.9,128.5 478.1,126.3"/><polygon class="Lnavy1" points="487.9,144.3 493.8,146.6 493.9,131.4 488,129.2"/><polygon class="Rnavy1" points="493.8,146.6 497.9,143.4 498.1,128.3 493.9,131.4"/><polygon class="Tnavy" points="488,129.2 493.9,131.4 498.1,128.3 492.1,126.1"/><polygon class="Lnavy1" points="502.1,149.8 508.2,152.1 508.5,135.8 502.4,133.5"/><polygon class="Rnavy1" points="508.2,152.1 512.2,148.8 512.6,132.6 508.5,135.8"/><polygon class="Tnavy" points="502.4,133.5 508.5,135.8 512.6,132.6 506.6,130.4"/><polygon class="Lnavy1" points="516.8,155.4 522.9,157.8 523.8,133.3 517.5,131"/><polygon class="Rnavy1" points="522.9,157.8 526.9,154.4 527.9,130 523.8,133.3"/><polygon class="Tnavy" points="517.5,131 523.8,133.3 527.9,130 521.6,127.8"/><polygon class="Lnavy2" points="531.7,161.1 538.1,163.6 540.2,119.8 533.6,117.5"/><polygon class="Rnavy2" points="538.1,163.6 542,160.2 544.3,116.6 540.2,119.8"/><polygon class="Tnavy" points="533.6,117.5 540.2,119.8 544.3,116.6 537.7,114.3"/><polygon class="Lnavy2" points="547.1,167.1 553.6,169.5 557.2,112.9 550.3,110.6"/><polygon class="Rnavy2" points="553.6,169.5 557.5,166 561.2,109.7 557.2,112.9"/><polygon class="Tnavy" points="550.3,110.6 557.2,112.9 561.2,109.7 554.4,107.4"/><polygon class="Lnavy2" points="562.9,173.1 569.5,175.7 579.7,45.7 572.2,43.7"/><polygon class="Rnavy2" points="569.5,175.7 573.4,172.1 583.9,42.8 579.7,45.7"/><polygon class="Tnavy" points="572.2,43.7 579.7,45.7 583.9,42.8 576.4,40.7"/><polygon class="Lolive0" points="450,141.2 455.6,143.4 455.6,142.5 450,140.2"/><polygon class="Rolive0" points="455.6,143.4 460,140.2 460,139.3 455.6,142.5"/><polygon class="Tolive" points="450,140.2 455.6,142.5 460,139.3 454.3,137.1"/><polygon class="Lolive0" points="463.7,146.5 469.4,148.8 469.4,147.9 463.7,145.6"/><polygon class="Rolive0" points="469.4,148.8 473.7,145.6 473.7,144.7 469.4,147.9"/><polygon class="Tolive" points="463.7,145.6 469.4,147.9 473.7,144.7 468,142.4"/><polygon class="Lolive0" points="477.7,152.1 483.6,154.4 483.6,153.5 477.7,151.1"/><polygon class="Rolive0" points="483.6,154.4 487.9,151.1 487.9,150.2 483.6,153.5"/><polygon class="Tolive" points="477.7,151.1 483.6,153.5 487.9,150.2 482,147.9"/><polygon class="Lolive0" points="492.1,157.7 498.1,160.1 498.1,159.2 492.1,156.8"/><polygon class="Rolive0" points="498.1,160.1 502.3,156.8 502.4,155.8 498.1,159.2"/><polygon class="Tolive" points="492.1,156.8 498.1,159.2 502.4,155.8 496.3,153.5"/><polygon class="Lolive0" points="506.8,163.6 513,166 513,165.1 506.8,162.6"/><polygon class="Rolive0" points="513,166 517.2,162.6 517.2,161.6 513,165.1"/><polygon class="Tolive" points="506.8,162.6 513,165.1 517.2,161.6 511,159.2"/><polygon class="Lolive0" points="521.9,169.5 528.3,172.1 528.3,171.1 522,168.6"/><polygon class="Rolive0" points="528.3,172.1 532.4,168.5 532.4,167.5 528.3,171.1"/><polygon class="Tolive" points="522,168.6 528.3,171.1 532.4,167.5 526.1,165.1"/><polygon class="Lolive0" points="537.4,175.7 544,178.2 544.1,177.3 537.5,174.7"/><polygon class="Rolive0" points="544,178.2 548,174.6 548.1,173.6 544.1,177.3"/><polygon class="Tolive" points="537.5,174.7 544.1,177.3 548.1,173.6 541.5,171.1"/><polygon class="Lolive0" points="553.4,181.9 560.1,184.6 560.2,183.6 553.4,181"/><polygon class="Rolive0" points="560.1,184.6 564.1,180.9 564.1,179.9 560.2,183.6"/><polygon class="Tolive" points="553.4,181 560.2,183.6 564.1,179.9 557.4,177.3"/><polygon class="Lyel0" points="439.2,148.8 444.9,151.1 444.7,144.1 438.9,141.8"/><polygon class="Ryel0" points="444.9,151.1 449.4,147.9 449.2,140.9 444.7,144.1"/><polygon class="Tyel" points="438.9,141.8 444.7,144.1 449.2,140.9 443.5,138.6"/><polygon class="Lyel0" points="453,154.4 458.8,156.8 458.7,151.6 452.9,149.2"/><polygon class="Ryel0" points="458.8,156.8 463.3,153.4 463.2,148.3 458.7,151.6"/><polygon class="Tyel" points="452.9,149.2 458.7,151.6 463.2,148.3 457.3,146"/><polygon class="Lyel0" points="467.1,160.1 473.1,162.6 473,156.6 467,154.2"/><polygon class="Ryel0" points="473.1,162.6 477.5,159.1 477.5,153.2 473,156.6"/><polygon class="Tyel" points="467,154.2 473,156.6 477.5,153.2 471.5,150.9"/><polygon class="Lyel0" points="481.6,166 487.7,168.5 487.7,166.3 481.6,163.9"/><polygon class="Ryel0" points="487.7,168.5 492.1,165 492.1,162.9 487.7,166.3"/><polygon class="Tyel" points="481.6,163.9 487.7,166.3 492.1,162.9 486,160.4"/><polygon class="Lyel0" points="496.5,172 502.8,174.6 502.8,172.4 496.5,169.9"/><polygon class="Ryel0" points="502.8,174.6 507.1,171 507.1,168.8 502.8,172.4"/><polygon class="Tyel" points="496.5,169.9 502.8,172.4 507.1,168.8 500.8,166.3"/><polygon class="Lyel0" points="511.7,178.2 518.2,180.8 518.3,178.7 511.8,176.1"/><polygon class="Ryel0" points="518.2,180.8 522.4,177.2 522.5,175 518.3,178.7"/><polygon class="Tyel" points="511.8,176.1 518.3,178.7 522.5,175 516.1,172.4"/><polygon class="Lyel0" points="527.4,184.6 534,187.3 534.1,185.1 527.5,182.4"/><polygon class="Ryel0" points="534,187.3 538.2,183.5 538.3,181.3 534.1,185.1"/><polygon class="Tyel" points="527.5,182.4 534.1,185.1 538.3,181.3 531.7,178.7"/><polygon class="Lyel0" points="543.5,191.1 550.3,193.9 550.5,191.7 543.6,188.9"/><polygon class="Ryel0" points="550.3,193.9 554.4,190 554.6,187.8 550.5,191.7"/><polygon class="Tyel" points="543.6,188.9 550.5,191.7 554.6,187.8 547.8,185.1"/><polygon class="Lmag0" points="428.1,156.7 433.8,159.1 433.7,157.4 428,155"/><polygon class="Rmag0" points="433.8,159.1 438.4,155.8 438.4,154 433.7,157.4"/><polygon class="Tmag" points="428,155 433.7,157.4 438.4,154 432.7,151.7"/><polygon class="Lmag0" points="441.9,162.5 447.8,165 447.7,163.2 441.9,160.8"/><polygon class="Rmag0" points="447.8,165 452.4,161.5 452.4,159.8 447.7,163.2"/><polygon class="Tmag" points="441.9,160.8 447.7,163.2 452.4,159.8 446.5,157.4"/><polygon class="Lmag0" points="456.2,168.5 462.2,171 462.2,169.2 456.1,166.7"/><polygon class="Rmag0" points="462.2,171 466.8,167.4 466.7,165.7 462.2,169.2"/><polygon class="Tmag" points="456.1,166.7 462.2,169.2 466.7,165.7 460.7,163.2"/><polygon class="Lmag0" points="470.8,174.6 477,177.1 476.9,175.3 470.8,172.8"/><polygon class="Rmag0" points="477,177.1 481.5,173.5 481.5,171.7 476.9,175.3"/><polygon class="Tmag" points="470.8,172.8 476.9,175.3 481.5,171.7 475.3,169.2"/><polygon class="Lmag0" points="485.8,180.8 492.1,183.5 492.1,181.6 485.8,179"/><polygon class="Rmag0" points="492.1,183.5 496.6,179.7 496.6,177.9 492.1,181.6"/><polygon class="Tmag" points="485.8,179 492.1,181.6 496.6,177.9 490.3,175.3"/><polygon class="Lmag0" points="501.2,187.2 507.7,190 507.7,188.1 501.2,185.4"/><polygon class="Rmag0" points="507.7,190 512.1,186.1 512.1,184.3 507.7,188.1"/><polygon class="Tmag" points="501.2,185.4 507.7,188.1 512.1,184.3 505.6,181.6"/><polygon class="Lmag0" points="517,193.8 523.7,196.6 523.8,192.9 517.1,190.1"/><polygon class="Rmag0" points="523.7,196.6 528,192.7 528.2,189 523.8,192.9"/><polygon class="Tmag" points="517.1,190.1 523.8,192.9 528.2,189 521.5,186.3"/><polygon class="Lmag0" points="533.3,200.6 540.1,203.5 540.3,199.8 533.4,196.9"/><polygon class="Rmag0" points="540.1,203.5 544.4,199.4 544.6,195.7 540.3,199.8"/><polygon class="Tmag" points="533.4,196.9 540.3,199.8 544.6,195.7 537.7,192.9"/><polygon class="Lcyan0" points="416.5,165 422.3,167.4 422.2,165.7 416.4,163.2"/><polygon class="Rcyan0" points="422.3,167.4 427.1,164 427,162.2 422.2,165.7"/><polygon class="Tcyan" points="416.4,163.2 422.2,165.7 427,162.2 421.3,159.7"/><polygon class="Lcyan0" points="430.5,171 436.4,173.5 436.3,171.7 430.4,169.2"/><polygon class="Rcyan0" points="436.4,173.5 441.2,169.9 441.1,168.1 436.3,171.7"/><polygon class="Tcyan" points="430.4,169.2 436.3,171.7 441.1,168.1 435.2,165.6"/><polygon class="Lcyan0" points="444.8,177.1 450.9,179.7 450.8,177.9 444.8,175.3"/><polygon class="Rcyan0" points="450.9,179.7 455.6,176.1 455.6,174.2 450.8,177.9"/><polygon class="Tcyan" points="444.8,175.3 450.8,177.9 455.6,174.2 449.5,171.7"/><polygon class="Lcyan0" points="459.6,183.4 465.8,186.1 465.8,184.3 459.5,181.6"/><polygon class="Rcyan0" points="465.8,186.1 470.5,182.3 470.5,180.5 465.8,184.3"/><polygon class="Tcyan" points="459.5,181.6 465.8,184.3 470.5,180.5 464.2,177.9"/><polygon class="Lcyan0" points="474.7,189.9 481.1,192.7 481.1,190.8 474.7,188.1"/><polygon class="Rcyan0" points="481.1,192.7 485.7,188.8 485.7,187 481.1,190.8"/><polygon class="Tcyan" points="474.7,188.1 481.1,190.8 485.7,187 479.3,184.3"/><polygon class="Lcyan0" points="490.2,196.6 496.8,199.4 496.8,197.6 490.2,194.7"/><polygon class="Rcyan0" points="496.8,199.4 501.4,195.4 501.4,193.6 496.8,197.6"/><polygon class="Tcyan" points="490.2,194.7 496.8,197.6 501.4,193.6 494.8,190.8"/><polygon class="Lcyan0" points="506.2,203.4 513,206.3 513,204.5 506.2,201.6"/><polygon class="Rcyan0" points="513,206.3 517.5,202.3 517.5,200.4 513,204.5"/><polygon class="Tcyan" points="506.2,201.6 513,204.5 517.5,200.4 510.8,197.6"/><polygon class="Lcyan0" points="522.6,210.5 529.6,213.5 529.7,211 522.7,208"/><polygon class="Rcyan0" points="529.6,213.5 534,209.3 534.1,206.8 529.7,211"/><polygon class="Tcyan" points="522.7,208 529.7,211 534.1,206.8 527.2,203.9"/><polygon class="Lblue0" points="404.5,173.5 410.3,176 410.3,174.8 404.4,172.3"/><polygon class="Rblue0" points="410.3,176 415.3,172.4 415.3,171.2 410.3,174.8"/><polygon class="Tblue" points="404.4,172.3 410.3,174.8 415.3,171.2 409.5,168.7"/><polygon class="Lblue0" points="418.6,179.7 424.6,182.3 424.5,181.1 418.5,178.5"/><polygon class="Rblue0" points="424.6,182.3 429.5,178.6 429.5,177.4 424.5,181.1"/><polygon class="Tblue" points="418.5,178.5 424.5,181.1 429.5,177.4 423.5,174.8"/><polygon class="Lblue0" points="433.1,186.1 439.2,188.8 439.1,187.6 433,184.9"/><polygon class="Rblue0" points="439.2,188.8 444.1,185 444,183.8 439.1,187.6"/><polygon class="Tblue" points="433,184.9 439.1,187.6 444,183.8 437.9,181.1"/><polygon class="Lblue0" points="447.9,192.6 454.2,195.4 454.2,194.2 447.9,191.4"/><polygon class="Rblue0" points="454.2,195.4 459.1,191.5 459,190.3 454.2,194.2"/><polygon class="Tblue" points="447.9,191.4 454.2,194.2 459,190.3 452.8,187.6"/><polygon class="Lblue0" points="463.2,199.4 469.6,202.2 469.6,201 463.1,198.1"/><polygon class="Rblue0" points="469.6,202.2 474.4,198.2 474.4,197 469.6,201"/><polygon class="Tblue" points="463.1,198.1 469.6,201 474.4,197 468,194.2"/><polygon class="Lblue0" points="478.8,206.3 485.5,209.2 485.5,208 478.8,205.1"/><polygon class="Rblue0" points="485.5,209.2 490.2,205.1 490.2,203.9 485.5,208"/><polygon class="Tblue" points="478.8,205.1 485.5,208 490.2,203.9 483.6,201"/><polygon class="Lblue0" points="495,213.4 501.8,216.5 501.8,215.2 495,212.2"/><polygon class="Rblue0" points="501.8,216.5 506.5,212.2 506.5,211 501.8,215.2"/><polygon class="Tblue" points="495,212.2 501.8,215.2 506.5,211 499.7,208"/><polygon class="Lblue0" points="511.6,220.8 518.6,223.9 518.6,222.6 511.6,219.5"/><polygon class="Rblue0" points="518.6,223.9 523.2,219.5 523.2,218.2 518.6,222.6"/><polygon class="Tblue" points="511.6,219.5 518.6,222.6 523.2,218.2 516.2,215.2"/><polygon class="Lgreen0" points="392.1,182.3 398,185 397.8,183.1 392,180.5"/><polygon class="Rgreen0" points="398,185 403.1,181.2 403,179.4 397.8,183.1"/><polygon class="Tgreen" points="392,180.5 397.8,183.1 403,179.4 397.2,176.8"/><polygon class="Lgreen0" points="406.3,188.8 412.3,191.5 412.2,189.7 406.2,186.9"/><polygon class="Rgreen0" points="412.3,191.5 417.4,187.6 417.3,185.8 412.2,189.7"/><polygon class="Tgreen" points="406.2,186.9 412.2,189.7 417.3,185.8 411.3,183.1"/><polygon class="Lgreen0" points="420.9,195.4 427,198.2 426.9,196.3 420.7,193.5"/><polygon class="Rgreen0" points="427,198.2 432.1,194.2 432,192.4 426.9,196.3"/><polygon class="Tgreen" points="420.7,193.5 426.9,196.3 432,192.4 425.9,189.6"/><polygon class="Lgreen0" points="435.8,202.2 442.1,205.1 442.1,203.2 435.7,200.3"/><polygon class="Rgreen0" points="442.1,205.1 447.2,201 447.1,199.2 442.1,203.2"/><polygon class="Tgreen" points="435.7,200.3 442.1,203.2 447.1,199.2 440.8,196.3"/><polygon class="Lgreen0" points="451.2,209.2 457.7,212.2 457.7,210.3 451.1,207.3"/><polygon class="Rgreen0" points="457.7,212.2 462.7,208 462.7,206.1 457.7,210.3"/><polygon class="Tgreen" points="451.1,207.3 457.7,210.3 462.7,206.1 456.2,203.2"/><polygon class="Lgreen0" points="467,216.4 473.7,219.5 473.7,217.6 467,214.5"/><polygon class="Rgreen0" points="473.7,219.5 478.7,215.2 478.6,213.3 473.7,217.6"/><polygon class="Tgreen" points="467,214.5 473.7,217.6 478.6,213.3 472,210.3"/><polygon class="Lgreen0" points="483.3,223.8 490.2,227 490.2,225.1 483.3,221.9"/><polygon class="Rgreen0" points="490.2,227 495.1,222.6 495.1,220.7 490.2,225.1"/><polygon class="Tgreen" points="483.3,221.9 490.2,225.1 495.1,220.7 488.2,217.6"/><polygon class="Lgreen0" points="500,231.5 507.1,234.7 507.2,232.8 500.1,229.5"/><polygon class="Rgreen0" points="507.1,234.7 512,230.1 512,228.2 507.2,232.8"/><polygon class="Tgreen" points="500.1,229.5 507.2,232.8 512,228.2 504.9,225.1"/><polygon class="Lred0" points="379.2,191.5 385.1,194.2 385,192.4 379.1,189.6"/><polygon class="Rred0" points="385.1,194.2 390.5,190.3 390.4,188.5 385,192.4"/><polygon class="Tred" points="379.1,189.6 385,192.4 390.4,188.5 384.5,185.8"/><polygon class="Lred0" points="393.5,198.2 399.5,201 399.4,199.1 393.4,196.3"/><polygon class="Rred0" points="399.5,201 404.9,197 404.8,195.2 399.4,199.1"/><polygon class="Tred" points="393.4,196.3 399.4,199.1 404.8,195.2 398.7,192.4"/><polygon class="Lred0" points="408.2,205 414.4,208 414.3,206.1 408,203.2"/><polygon class="Rred0" points="414.4,208 419.7,203.9 419.6,202 414.3,206.1"/><polygon class="Tred" points="408,203.2 414.3,206.1 419.6,202 413.4,199.1"/><polygon class="Lred0" points="423.2,212.1 429.6,215.1 429.5,213.3 423.1,210.3"/><polygon class="Rred0" points="429.6,215.1 434.9,210.9 434.8,209 429.5,213.3"/><polygon class="Tred" points="423.1,210.3 429.5,213.3 434.8,209 428.4,206.1"/><polygon class="Lred0" points="438.8,219.4 445.3,222.5 445.3,220.6 438.7,217.5"/><polygon class="Rred0" points="445.3,222.5 450.5,218.2 450.5,216.3 445.3,220.6"/><polygon class="Tred" points="438.7,217.5 445.3,220.6 450.5,216.3 443.9,213.3"/><polygon class="Lred0" points="454.7,226.9 461.5,230.1 461.4,227.6 454.6,224.4"/><polygon class="Rred0" points="461.5,230.1 466.6,225.6 466.6,223.1 461.4,227.6"/><polygon class="Tred" points="454.6,224.4 461.4,227.6 466.6,223.1 459.8,220"/><polygon class="Lred0" points="471.1,234.6 478.1,237.9 478.1,236 471.1,232.7"/><polygon class="Rred0" points="478.1,237.9 483.2,233.3 483.2,231.4 478.1,236"/><polygon class="Tred" points="471.1,232.7 478.1,236 483.2,231.4 476.2,228.2"/><polygon class="Lred0" points="488.1,242.6 495.2,246 495.3,244 488.1,240.7"/><polygon class="Rred0" points="495.2,246 500.2,241.2 500.3,239.3 495.3,244"/><polygon class="Tred" points="488.1,240.7 495.3,244 500.3,239.3 493.1,236"/></g><g fill="none" stroke="#000" stroke-width="1.45" stroke-linecap="square"><path d="M371.3,192.3 L496.8,251.8 L580.7,171.3 L592.5,37.4M378.3,195.6 L375.6,197.6M392.7,202.4 L389.9,204.4M407.5,209.4 L404.7,211.5M422.7,216.6 L420,218.8M438.3,224 L435.6,226.3M454.4,231.7 L451.7,234M471,239.5 L468.4,241.9M488,247.6 L485.5,250.1M502.8,246 L505.9,247.4M514.6,234.7 L517.7,236.1M525.9,223.9 L528.9,225.2M536.7,213.5 L539.7,214.8M547.2,203.5 L550.1,204.7M557.2,193.9 L560.1,195M566.9,184.6 L569.8,185.7M576.2,175.7 L579.1,176.8M581.2,166.2 L584.6,167M582.4,152.5 L585.8,153.3M583.6,138.5 L587,139.3M584.9,124.1 L588.3,124.9M586.2,109.4 L589.6,110.2M587.5,94.2 L590.9,95M588.9,78.7 L592.3,79.5M590.3,62.8 L593.7,63.6M591.7,46.4 L595.1,47.2M581.8,159.4 L583.9,159.9M583,145.6 L585.1,146.1M584.2,131.4 L586.3,131.9M585.5,116.8 L587.6,117.3M586.8,101.9 L588.9,102.4M588.2,86.5 L590.3,87M589.6,70.8 L591.7,71.3M591,54.6 L593.1,55.1M592.4,38.1 L594.5,38.6"/></g><g font-family="Liberation Sans, sans-serif" font-weight="bold" fill="#000" stroke="#000" stroke-width="0.25"><text transform="translate(585.5,173.7) rotate(8)" font-size="12.3">50</text><text transform="translate(586.7,160) rotate(8)" font-size="12.3">100</text><text transform="translate(587.9,146) rotate(8)" font-size="12.3">150</text><text transform="translate(589.2,131.6) rotate(8)" font-size="12.3">200</text><text transform="translate(590.5,116.9) rotate(8)" font-size="12.3">250</text><text transform="translate(591.8,101.7) rotate(8)" font-size="12.3">300</text><text transform="translate(593.2,86.2) rotate(8)" font-size="12.3">350</text><text transform="translate(594.6,70.3) rotate(8)" font-size="12.3">400</text><text transform="translate(596,53.9) rotate(8)" font-size="12.3">450</text><text transform="translate(376.2,201.2) rotate(-33) scale(1.08,0.96)" text-anchor="end" font-size="11">220</text><text transform="translate(390.5,208) rotate(-33) scale(1.08,0.96)" text-anchor="end" font-size="11">190</text><text transform="translate(405.3,215.1) rotate(-33) scale(1.08,0.96)" text-anchor="end" font-size="11">170</text><text transform="translate(420.6,222.4) rotate(-33) scale(1.08,0.96)" text-anchor="end" font-size="11">150</text><text transform="translate(436.2,229.9) rotate(-33) scale(1.08,0.96)" text-anchor="end" font-size="11">130</text><text transform="translate(452.3,237.6) rotate(-33) scale(1.08,0.96)" text-anchor="end" font-size="11">110</text><text transform="translate(469,245.5) rotate(-33) scale(1.08,0.96)" text-anchor="end" font-size="11">90</text><text transform="translate(486.1,253.7) rotate(-33) scale(1.08,0.96)" text-anchor="end" font-size="11">70</text><text transform="matrix(1.370,0.069,0,0.900,507.9,253.9)" font-size="12">Acetic Acid</text><text transform="matrix(1.347,0.067,0,0.888,519.7,242.4)" font-size="12">Acetone</text><text transform="matrix(1.323,0.066,0,0.876,531,231.4)" font-size="12">Ammonia</text><text transform="matrix(1.300,0.065,0,0.864,541.8,220.9)" font-size="12">Methanol</text><text transform="matrix(1.276,0.064,0,0.852,552.3,210.7)" font-size="12">Acetaldehyde</text><text transform="matrix(1.253,0.063,0,0.840,562.3,200.9)" font-size="12">Ethanol</text><text transform="matrix(1.229,0.061,0,0.828,572,191.5)" font-size="12">Formic Acid</text><text transform="matrix(1.206,0.060,0,0.816,581.3,182.4)" font-size="12">Formaldehyde</text><text transform="translate(404.8,245) rotate(26.5) skewX(-14)" text-anchor="middle" font-size="12.7">Temperature <tspan font-weight="normal" font-family="Liberation Sans, Noto Sans CJK SC, sans-serif">(℃)</tspan></text><text transform="translate(626.4,111.5) rotate(-83)" text-anchor="middle" font-style="italic" font-size="12.7">Response(Ra/Rg)</text><text x="580.2" y="20.9" font-size="14.6" stroke="none">ZSO/ZQD-0.01</text><text x="347.8" y="29" font-size="27.3" stroke="none">b</text></g><path d="M818.4,132.2 L817.7,6.4M832.1,137.4 L833,10.5M846.2,142.7 L848.6,14.7M860.6,148.2 L864.7,19M875.4,153.7 L881.3,23.4M890.5,159.5 L898.3,27.9M906.1,165.3 L915.8,32.6M725.6,183.1 L713.4,47.2M738.2,174.2 L727.7,40M750.3,165.7 L741.5,33.1M762,157.4 L754.7,26.5M773.3,149.5 L767.5,20.2M784.2,141.8 L779.7,14.1M794.8,134.4 L791.5,8.2M711.7,183.7 L804.9,119.3 L922.8,163M709.6,163.2 L804.5,100.5 L924.5,142.9M707.4,141.9 L804.2,81 L926.4,122.1M705.1,119.7 L803.9,60.9 L928.2,100.6M702.8,96.7 L803.5,40.1 L930.2,78.2M700.3,72.7 L803.2,18.6 L932.3,54.9" fill="none" stroke="#f6f6f6" stroke-width="0.8"/><path d="M811.7,129.7 L810.3,4.4M825.2,134.8 L825.3,8.4M839.1,140.1 L840.8,12.6M853.4,145.4 L856.6,16.8M868,150.9 L872.9,21.2M882.9,156.6 L889.7,25.6M898.3,162.4 L907,30.2M914,168.3 L924.7,35M719.2,187.6 L706,50.9M732,178.6 L720.6,43.6M744.3,169.9 L734.7,36.6M756.2,161.5 L748.2,29.8M767.7,153.4 L761.2,23.3M778.8,145.6 L773.6,17.1M789.6,138 L785.7,11.1M799.9,130.7 L797.3,5.3M710.7,173.6 L804.7,110 L923.6,153.1M708.5,152.6 L804.4,90.9 L925.4,132.6M706.3,130.9 L804,71.1 L927.3,111.4M703.9,108.3 L803.7,50.6 L929.2,89.5M701.5,84.8 L803.3,29.5 L931.2,66.6M699,60.4 L803,7.5 L933.3,42.9" fill="none" stroke="#ededed" stroke-width="1"/><g fill="none" stroke="#858585" stroke-width="0.65"><path d="M698.4,54.7 L802.9,2.5 L933.8,37.4"/><path d="M805,127.2 L802.9,2.5" stroke="#999"/><path d="M712.6,192.3 L698.4,54.7" stroke-dasharray="3 2" stroke="#888"/><path d="M712.6,192.3 L805,127.2 L922,171.3" stroke="#bbb"/></g><g class="bars"><polygon class="Lnavy0" points="801.7,133.7 807.3,135.9 807.3,132.7 801.7,130.5"/><polygon class="Rnavy0" points="807.3,135.9 811.5,132.9 811.5,129.7 807.3,132.7"/><polygon class="Tnavy" points="801.7,130.5 807.3,132.7 811.5,129.7 805.9,127.6"/><polygon class="Lnavy0" points="815.3,139 821,141.2 821,137.6 815.3,135.4"/><polygon class="Rnavy0" points="821,141.2 825.2,138 825.2,134.5 821,137.6"/><polygon class="Tnavy" points="815.3,135.4 821,137.6 825.2,134.5 819.5,132.3"/><polygon class="Lnavy0" points="829.2,144.3 835.1,146.6 835.1,141.6 829.2,139.3"/><polygon class="Rnavy0" points="835.1,146.6 839.2,143.4 839.2,138.4 835.1,141.6"/><polygon class="Tnavy" points="829.2,139.3 835.1,141.6 839.2,138.4 833.4,136.2"/><polygon class="Lnavy0" points="843.4,149.8 849.5,152.1 849.6,144.8 843.6,142.5"/><polygon class="Rnavy0" points="849.5,152.1 853.5,148.8 853.7,141.6 849.6,144.8"/><polygon class="Tnavy" points="843.6,142.5 849.6,144.8 853.7,141.6 847.7,139.3"/><polygon class="Lnavy1" points="858.1,155.4 864.2,157.8 864.6,146.7 858.4,144.4"/><polygon class="Rnavy1" points="864.2,157.8 868.2,154.4 868.7,143.4 864.6,146.7"/><polygon class="Tnavy" points="858.4,144.4 864.6,146.7 868.7,143.4 862.5,141.1"/><polygon class="Lnavy1" points="873,161.1 879.4,163.6 880.6,138 874.1,135.7"/><polygon class="Rnavy1" points="879.4,163.6 883.3,160.2 884.7,134.7 880.6,138"/><polygon class="Tnavy" points="874.1,135.7 880.6,138 884.7,134.7 878.2,132.4"/><polygon class="Lnavy2" points="888.4,167.1 894.9,169.5 899.7,93.2 892.8,91"/><polygon class="Rnavy2" points="894.9,169.5 898.8,166 903.9,90.1 899.7,93.2"/><polygon class="Tnavy" points="892.8,91 899.7,93.2 903.9,90.1 896.9,87.9"/><polygon class="Lnavy2" points="904.2,173.1 910.8,175.7 921.2,42.9 913.7,40.8"/><polygon class="Rnavy2" points="910.8,175.7 914.7,172.1 925.4,39.9 921.2,42.9"/><polygon class="Tnavy" points="913.7,40.8 921.2,42.9 925.4,39.9 917.9,37.9"/><polygon class="Lolive0" points="791.3,141.2 796.9,143.4 796.9,142.5 791.3,140.2"/><polygon class="Rolive0" points="796.9,143.4 801.3,140.2 801.3,139.3 796.9,142.5"/><polygon class="Tolive" points="791.3,140.2 796.9,142.5 801.3,139.3 795.6,137.1"/><polygon class="Lolive0" points="805,146.5 810.7,148.8 810.7,147.9 805,145.6"/><polygon class="Rolive0" points="810.7,148.8 815,145.6 815,144.7 810.7,147.9"/><polygon class="Tolive" points="805,145.6 810.7,147.9 815,144.7 809.3,142.4"/><polygon class="Lolive0" points="819,152.1 824.9,154.4 824.9,153.5 819,151.1"/><polygon class="Rolive0" points="824.9,154.4 829.2,151.1 829.2,150.2 824.9,153.5"/><polygon class="Tolive" points="819,151.1 824.9,153.5 829.2,150.2 823.3,147.9"/><polygon class="Lolive0" points="833.4,157.7 839.4,160.1 839.4,159.2 833.4,156.8"/><polygon class="Rolive0" points="839.4,160.1 843.6,156.8 843.7,155.8 839.4,159.2"/><polygon class="Tolive" points="833.4,156.8 839.4,159.2 843.7,155.8 837.6,153.5"/><polygon class="Lolive0" points="848.1,163.6 854.3,166 854.3,165.1 848.1,162.6"/><polygon class="Rolive0" points="854.3,166 858.5,162.6 858.5,161.6 854.3,165.1"/><polygon class="Tolive" points="848.1,162.6 854.3,165.1 858.5,161.6 852.3,159.2"/><polygon class="Lolive0" points="863.2,169.5 869.6,172.1 869.6,171.1 863.3,168.6"/><polygon class="Rolive0" points="869.6,172.1 873.7,168.5 873.7,167.5 869.6,171.1"/><polygon class="Tolive" points="863.3,168.6 869.6,171.1 873.7,167.5 867.4,165.1"/><polygon class="Lolive0" points="878.7,175.7 885.3,178.2 885.4,177.3 878.8,174.7"/><polygon class="Rolive0" points="885.3,178.2 889.3,174.6 889.4,173.6 885.4,177.3"/><polygon class="Tolive" points="878.8,174.7 885.4,177.3 889.4,173.6 882.8,171.1"/><polygon class="Lolive0" points="894.7,181.9 901.4,184.6 901.5,183.6 894.7,181"/><polygon class="Rolive0" points="901.4,184.6 905.4,180.9 905.4,179.9 901.5,183.6"/><polygon class="Tolive" points="894.7,181 901.5,183.6 905.4,179.9 898.7,177.3"/><polygon class="Lyel0" points="780.5,148.8 786.2,151.1 786.1,148.2 780.4,145.9"/><polygon class="Ryel0" points="786.2,151.1 790.7,147.9 790.6,145 786.1,148.2"/><polygon class="Tyel" points="780.4,145.9 786.1,148.2 790.6,145 784.9,142.7"/><polygon class="Lyel0" points="794.3,154.4 800.1,156.8 800.1,154.4 794.2,152.1"/><polygon class="Ryel0" points="800.1,156.8 804.6,153.4 804.5,151.1 800.1,154.4"/><polygon class="Tyel" points="794.2,152.1 800.1,154.4 804.5,151.1 798.7,148.8"/><polygon class="Lyel0" points="808.4,160.1 814.4,162.6 814.4,160.8 808.4,158.4"/><polygon class="Ryel0" points="814.4,162.6 818.8,159.1 818.8,157.4 814.4,160.8"/><polygon class="Tyel" points="808.4,158.4 814.4,160.8 818.8,157.4 812.8,155"/><polygon class="Lyel0" points="822.9,166 829,168.5 829,166.7 822.9,164.2"/><polygon class="Ryel0" points="829,168.5 833.4,165 833.4,163.2 829,166.7"/><polygon class="Tyel" points="822.9,164.2 829,166.7 833.4,163.2 827.3,160.8"/><polygon class="Lyel0" points="837.8,172 844.1,174.6 844.1,172.8 837.8,170.2"/><polygon class="Ryel0" points="844.1,174.6 848.4,171 848.4,169.2 844.1,172.8"/><polygon class="Tyel" points="837.8,170.2 844.1,172.8 848.4,169.2 842.1,166.7"/><polygon class="Lyel0" points="853,178.2 859.5,180.8 859.6,179 853.1,176.4"/><polygon class="Ryel0" points="859.5,180.8 863.7,177.2 863.8,175.3 859.6,179"/><polygon class="Tyel" points="853.1,176.4 859.6,179 863.8,175.3 857.4,172.8"/><polygon class="Lyel0" points="868.7,184.6 875.3,187.3 875.4,185.4 868.8,182.8"/><polygon class="Ryel0" points="875.3,187.3 879.5,183.5 879.6,181.7 875.4,185.4"/><polygon class="Tyel" points="868.8,182.8 875.4,185.4 879.6,181.7 873,179"/><polygon class="Lyel0" points="884.8,191.1 891.6,193.9 891.7,192 884.9,189.3"/><polygon class="Ryel0" points="891.6,193.9 895.7,190 895.8,188.1 891.7,192"/><polygon class="Tyel" points="884.9,189.3 891.7,192 895.8,188.1 889.1,185.4"/><polygon class="Lmag0" points="769.4,156.7 775.1,159.1 775,157.4 769.3,155"/><polygon class="Rmag0" points="775.1,159.1 779.7,155.8 779.7,154 775,157.4"/><polygon class="Tmag" points="769.3,155 775,157.4 779.7,154 774,151.7"/><polygon class="Lmag0" points="783.2,162.5 789.1,165 789,163.2 783.2,160.8"/><polygon class="Rmag0" points="789.1,165 793.7,161.5 793.7,159.8 789,163.2"/><polygon class="Tmag" points="783.2,160.8 789,163.2 793.7,159.8 787.8,157.4"/><polygon class="Lmag0" points="797.5,168.5 803.5,171 803.5,169.2 797.4,166.7"/><polygon class="Rmag0" points="803.5,171 808.1,167.4 808,165.7 803.5,169.2"/><polygon class="Tmag" points="797.4,166.7 803.5,169.2 808,165.7 802,163.2"/><polygon class="Lmag0" points="812.1,174.6 818.3,177.1 818.2,175.3 812.1,172.8"/><polygon class="Rmag0" points="818.3,177.1 822.8,173.5 822.8,171.7 818.2,175.3"/><polygon class="Tmag" points="812.1,172.8 818.2,175.3 822.8,171.7 816.6,169.2"/><polygon class="Lmag0" points="827.1,180.8 833.4,183.5 833.4,181.6 827.1,179"/><polygon class="Rmag0" points="833.4,183.5 837.9,179.7 837.9,177.9 833.4,181.6"/><polygon class="Tmag" points="827.1,179 833.4,181.6 837.9,177.9 831.6,175.3"/><polygon class="Lmag0" points="842.5,187.2 849,190 849,188.1 842.5,185.4"/><polygon class="Rmag0" points="849,190 853.4,186.1 853.4,184.3 849,188.1"/><polygon class="Tmag" points="842.5,185.4 849,188.1 853.4,184.3 846.9,181.6"/><polygon class="Lmag0" points="858.3,193.8 865,196.6 865.2,192.3 858.4,189.5"/><polygon class="Rmag0" points="865,196.6 869.3,192.7 869.5,188.4 865.2,192.3"/><polygon class="Tmag" points="858.4,189.5 865.2,192.3 869.5,188.4 862.8,185.7"/><polygon class="Lmag0" points="874.6,200.6 881.4,203.5 881.8,196.6 874.9,193.8"/><polygon class="Rmag0" points="881.4,203.5 885.7,199.4 886.1,192.6 881.8,196.6"/><polygon class="Tmag" points="874.9,193.8 881.8,196.6 886.1,192.6 879.2,189.8"/><polygon class="Lcyan0" points="757.8,165 763.6,167.4 763.5,165.7 757.7,163.2"/><polygon class="Rcyan0" points="763.6,167.4 768.4,164 768.3,162.2 763.5,165.7"/><polygon class="Tcyan" points="757.7,163.2 763.5,165.7 768.3,162.2 762.6,159.7"/><polygon class="Lcyan0" points="771.8,171 777.7,173.5 777.6,171.7 771.7,169.2"/><polygon class="Rcyan0" points="777.7,173.5 782.5,169.9 782.4,168.1 777.6,171.7"/><polygon class="Tcyan" points="771.7,169.2 777.6,171.7 782.4,168.1 776.5,165.6"/><polygon class="Lcyan0" points="786.1,177.1 792.2,179.7 792.1,177.9 786.1,175.3"/><polygon class="Rcyan0" points="792.2,179.7 796.9,176.1 796.9,174.2 792.1,177.9"/><polygon class="Tcyan" points="786.1,175.3 792.1,177.9 796.9,174.2 790.8,171.7"/><polygon class="Lcyan0" points="800.9,183.4 807.1,186.1 807.1,184.3 800.8,181.6"/><polygon class="Rcyan0" points="807.1,186.1 811.8,182.3 811.8,180.5 807.1,184.3"/><polygon class="Tcyan" points="800.8,181.6 807.1,184.3 811.8,180.5 805.5,177.9"/><polygon class="Lcyan0" points="816,189.9 822.4,192.7 822.4,190.8 816,188.1"/><polygon class="Rcyan0" points="822.4,192.7 827,188.8 827,187 822.4,190.8"/><polygon class="Tcyan" points="816,188.1 822.4,190.8 827,187 820.6,184.3"/><polygon class="Lcyan0" points="831.5,196.6 838.1,199.4 838.1,197.6 831.5,194.7"/><polygon class="Rcyan0" points="838.1,199.4 842.7,195.4 842.7,193.6 838.1,197.6"/><polygon class="Tcyan" points="831.5,194.7 838.1,197.6 842.7,193.6 836.1,190.8"/><polygon class="Lcyan0" points="847.5,203.4 854.3,206.3 854.3,204.5 847.5,201.6"/><polygon class="Rcyan0" points="854.3,206.3 858.8,202.3 858.8,200.4 854.3,204.5"/><polygon class="Tcyan" points="847.5,201.6 854.3,204.5 858.8,200.4 852.1,197.6"/><polygon class="Lcyan0" points="863.9,210.5 870.9,213.5 871,211.6 864,208.6"/><polygon class="Rcyan0" points="870.9,213.5 875.3,209.3 875.4,207.4 871,211.6"/><polygon class="Tcyan" points="864,208.6 871,211.6 875.4,207.4 868.5,204.5"/><polygon class="Lblue0" points="745.8,173.5 751.6,176 751.6,174.8 745.7,172.3"/><polygon class="Rblue0" points="751.6,176 756.6,172.4 756.6,171.2 751.6,174.8"/><polygon class="Tblue" points="745.7,172.3 751.6,174.8 756.6,171.2 750.8,168.7"/><polygon class="Lblue0" points="759.9,179.7 765.9,182.3 765.8,181.1 759.8,178.5"/><polygon class="Rblue0" points="765.9,182.3 770.8,178.6 770.8,177.4 765.8,181.1"/><polygon class="Tblue" points="759.8,178.5 765.8,181.1 770.8,177.4 764.8,174.8"/><polygon class="Lblue0" points="774.4,186.1 780.5,188.8 780.4,187.6 774.3,184.9"/><polygon class="Rblue0" points="780.5,188.8 785.4,185 785.3,183.8 780.4,187.6"/><polygon class="Tblue" points="774.3,184.9 780.4,187.6 785.3,183.8 779.2,181.1"/><polygon class="Lblue0" points="789.2,192.6 795.5,195.4 795.5,194.2 789.2,191.4"/><polygon class="Rblue0" points="795.5,195.4 800.4,191.5 800.3,190.3 795.5,194.2"/><polygon class="Tblue" points="789.2,191.4 795.5,194.2 800.3,190.3 794.1,187.6"/><polygon class="Lblue0" points="804.5,199.4 810.9,202.2 810.9,201 804.4,198.1"/><polygon class="Rblue0" points="810.9,202.2 815.7,198.2 815.7,197 810.9,201"/><polygon class="Tblue" points="804.4,198.1 810.9,201 815.7,197 809.3,194.2"/><polygon class="Lblue0" points="820.1,206.3 826.8,209.2 826.8,208 820.1,205.1"/><polygon class="Rblue0" points="826.8,209.2 831.5,205.1 831.5,203.9 826.8,208"/><polygon class="Tblue" points="820.1,205.1 826.8,208 831.5,203.9 824.9,201"/><polygon class="Lblue0" points="836.3,213.4 843.1,216.5 843.1,215.2 836.3,212.2"/><polygon class="Rblue0" points="843.1,216.5 847.8,212.2 847.8,211 843.1,215.2"/><polygon class="Tblue" points="836.3,212.2 843.1,215.2 847.8,211 841,208"/><polygon class="Lblue0" points="852.9,220.8 859.9,223.9 859.9,222.6 852.9,219.5"/><polygon class="Rblue0" points="859.9,223.9 864.5,219.5 864.5,218.2 859.9,222.6"/><polygon class="Tblue" points="852.9,219.5 859.9,222.6 864.5,218.2 857.5,215.2"/><polygon class="Lgreen0" points="733.4,182.3 739.3,185 739.1,183.1 733.3,180.5"/><polygon class="Rgreen0" points="739.3,185 744.4,181.2 744.3,179.4 739.1,183.1"/><polygon class="Tgreen" points="733.3,180.5 739.1,183.1 744.3,179.4 738.5,176.8"/><polygon class="Lgreen0" points="747.6,188.8 753.6,191.5 753.5,189.7 747.5,186.9"/><polygon class="Rgreen0" points="753.6,191.5 758.7,187.6 758.6,185.8 753.5,189.7"/><polygon class="Tgreen" points="747.5,186.9 753.5,189.7 758.6,185.8 752.6,183.1"/><polygon class="Lgreen0" points="762.2,195.4 768.3,198.2 768.2,196.3 762,193.5"/><polygon class="Rgreen0" points="768.3,198.2 773.4,194.2 773.3,192.4 768.2,196.3"/><polygon class="Tgreen" points="762,193.5 768.2,196.3 773.3,192.4 767.2,189.6"/><polygon class="Lgreen0" points="777.1,202.2 783.4,205.1 783.4,203.2 777,200.3"/><polygon class="Rgreen0" points="783.4,205.1 788.5,201 788.4,199.2 783.4,203.2"/><polygon class="Tgreen" points="777,200.3 783.4,203.2 788.4,199.2 782.1,196.3"/><polygon class="Lgreen0" points="792.5,209.2 799,212.2 799,210.3 792.4,207.3"/><polygon class="Rgreen0" points="799,212.2 804,208 804,206.1 799,210.3"/><polygon class="Tgreen" points="792.4,207.3 799,210.3 804,206.1 797.5,203.2"/><polygon class="Lgreen0" points="808.3,216.4 815,219.5 815,217.6 808.3,214.5"/><polygon class="Rgreen0" points="815,219.5 820,215.2 819.9,213.3 815,217.6"/><polygon class="Tgreen" points="808.3,214.5 815,217.6 819.9,213.3 813.3,210.3"/><polygon class="Lgreen0" points="824.6,223.8 831.5,227 831.5,225.1 824.6,221.9"/><polygon class="Rgreen0" points="831.5,227 836.4,222.6 836.4,220.7 831.5,225.1"/><polygon class="Tgreen" points="824.6,221.9 831.5,225.1 836.4,220.7 829.5,217.6"/><polygon class="Lgreen0" points="841.3,231.5 848.4,234.7 848.5,232.8 841.4,229.5"/><polygon class="Rgreen0" points="848.4,234.7 853.3,230.1 853.3,228.2 848.5,232.8"/><polygon class="Tgreen" points="841.4,229.5 848.5,232.8 853.3,228.2 846.2,225.1"/><polygon class="Lred0" points="720.5,191.5 726.4,194.2 726.3,192.4 720.4,189.6"/><polygon class="Rred0" points="726.4,194.2 731.8,190.3 731.7,188.5 726.3,192.4"/><polygon class="Tred" points="720.4,189.6 726.3,192.4 731.7,188.5 725.8,185.8"/><polygon class="Lred0" points="734.8,198.2 740.8,201 740.7,199.1 734.7,196.3"/><polygon class="Rred0" points="740.8,201 746.2,197 746.1,195.2 740.7,199.1"/><polygon class="Tred" points="734.7,196.3 740.7,199.1 746.1,195.2 740,192.4"/><polygon class="Lred0" points="749.5,205 755.7,208 755.6,206.1 749.3,203.2"/><polygon class="Rred0" points="755.7,208 761,203.9 760.9,202 755.6,206.1"/><polygon class="Tred" points="749.3,203.2 755.6,206.1 760.9,202 754.7,199.1"/><polygon class="Lred0" points="764.5,212.1 770.9,215.1 770.8,213.3 764.4,210.3"/><polygon class="Rred0" points="770.9,215.1 776.2,210.9 776.1,209 770.8,213.3"/><polygon class="Tred" points="764.4,210.3 770.8,213.3 776.1,209 769.7,206.1"/><polygon class="Lred0" points="780.1,219.4 786.6,222.5 786.6,220.6 780,217.5"/><polygon class="Rred0" points="786.6,222.5 791.8,218.2 791.8,216.3 786.6,220.6"/><polygon class="Tred" points="780,217.5 786.6,220.6 791.8,216.3 785.2,213.3"/><polygon class="Lred0" points="796,226.9 802.8,230.1 802.7,228.2 796,225"/><polygon class="Rred0" points="802.8,230.1 807.9,225.6 807.9,223.7 802.7,228.2"/><polygon class="Tred" points="796,225 802.7,228.2 807.9,223.7 801.1,220.6"/><polygon class="Lred0" points="812.4,234.6 819.4,237.9 819.4,235.3 812.4,232.1"/><polygon class="Rred0" points="819.4,237.9 824.5,233.3 824.5,230.8 819.4,235.3"/><polygon class="Tred" points="812.4,232.1 819.4,235.3 824.5,230.8 817.5,227.6"/><polygon class="Lred0" points="829.4,242.6 836.5,246 836.6,244 829.4,240.7"/><polygon class="Rred0" points="836.5,246 841.5,241.2 841.6,239.3 836.6,244"/><polygon class="Tred" points="829.4,240.7 836.6,244 841.6,239.3 834.4,236"/></g><g fill="none" stroke="#000" stroke-width="1.45" stroke-linecap="square"><path d="M712.6,192.3 L838.1,251.8 L922,171.3 L933.8,37.4M719.6,195.6 L716.9,197.6M734,202.4 L731.2,204.4M748.8,209.4 L746,211.5M764,216.6 L761.3,218.8M779.6,224 L776.9,226.3M795.7,231.7 L793,234M812.3,239.5 L809.7,241.9M829.3,247.6 L826.8,250.1M844.1,246 L847.2,247.4M855.9,234.7 L859,236.1M867.2,223.9 L870.2,225.2M878,213.5 L881,214.8M888.5,203.5 L891.4,204.7M898.5,193.9 L901.4,195M908.2,184.6 L911.1,185.7M917.5,175.7 L920.4,176.8M923.6,153.1 L927,153.9M925.4,132.6 L928.8,133.4M927.3,111.4 L930.7,112.2M929.2,89.5 L932.6,90.3M931.2,66.6 L934.6,67.4M933.3,42.9 L936.7,43.7M922.8,163 L924.9,163.5M924.5,142.9 L926.6,143.4M926.4,122.1 L928.5,122.6M928.2,100.6 L930.3,101.1M930.2,78.2 L932.3,78.7M932.3,54.9 L934.4,55.4"/></g><g font-family="Liberation Sans, sans-serif" font-weight="bold" fill="#000" stroke="#000" stroke-width="0.25"><text transform="translate(927.9,160.6) rotate(8)" font-size="12.3">100</text><text transform="translate(929.7,140.1) rotate(8)" font-size="12.3">200</text><text transform="translate(931.6,118.9) rotate(8)" font-size="12.3">300</text><text transform="translate(933.5,97) rotate(8)" font-size="12.3">400</text><text transform="translate(935.5,74.1) rotate(8)" font-size="12.3">500</text><text transform="translate(937.6,50.4) rotate(8)" font-size="12.3">600</text><text transform="translate(717.5,201.2) rotate(-33) scale(1.08,0.96)" text-anchor="end" font-size="11">220</text><text transform="translate(731.8,208) rotate(-33) scale(1.08,0.96)" text-anchor="end" font-size="11">190</text><text transform="translate(746.6,215.1) rotate(-33) scale(1.08,0.96)" text-anchor="end" font-size="11">170</text><text transform="translate(761.9,222.4) rotate(-33) scale(1.08,0.96)" text-anchor="end" font-size="11">150</text><text transform="translate(777.5,229.9) rotate(-33) scale(1.08,0.96)" text-anchor="end" font-size="11">130</text><text transform="translate(793.6,237.6) rotate(-33) scale(1.08,0.96)" text-anchor="end" font-size="11">110</text><text transform="translate(810.3,245.5) rotate(-33) scale(1.08,0.96)" text-anchor="end" font-size="11">90</text><text transform="translate(827.4,253.7) rotate(-33) scale(1.08,0.96)" text-anchor="end" font-size="11">70</text><text transform="matrix(1.370,0.069,0,0.900,849.2,253.9)" font-size="12">Acetic Acid</text><text transform="matrix(1.347,0.067,0,0.888,861,242.4)" font-size="12">Acetone</text><text transform="matrix(1.323,0.066,0,0.876,872.3,231.4)" font-size="12">Ammonia</text><text transform="matrix(1.300,0.065,0,0.864,883.1,220.9)" font-size="12">Methanol</text><text transform="matrix(1.276,0.064,0,0.852,893.6,210.7)" font-size="12">Acetaldehyde</text><text transform="matrix(1.253,0.063,0,0.840,903.6,200.9)" font-size="12">Ethanol</text><text transform="matrix(1.229,0.061,0,0.828,913.3,191.5)" font-size="12">Formic Acid</text><text transform="matrix(1.206,0.060,0,0.816,922.6,182.4)" font-size="12">Formaldehyde</text><text transform="translate(746.1,245) rotate(26.5) skewX(-14)" text-anchor="middle" font-size="12.7">Temperature <tspan font-weight="normal" font-family="Liberation Sans, Noto Sans CJK SC, sans-serif">(℃)</tspan></text><text transform="translate(967.7,111.5) rotate(-83)" text-anchor="middle" font-style="italic" font-size="12.7">Response(Ra/Rg)</text><text x="921.5" y="20.9" font-size="14.6" stroke="none">ZSO/ZQD-0.05</text><text x="689.1" y="29" font-size="27.3" stroke="none">c</text></g><path d="M135.8,400.7 L135.1,274.9M149.5,405.9 L150.4,279M163.6,411.2 L166,283.2M178,416.7 L182.1,287.5M192.8,422.2 L198.7,291.9M207.9,428 L215.7,296.4M223.5,433.8 L233.2,301.1M43,451.6 L30.8,315.7M55.6,442.7 L45.1,308.5M67.7,434.2 L58.9,301.6M79.4,425.9 L72.1,295M90.7,418 L84.9,288.7M101.6,410.3 L97.1,282.6M112.2,402.9 L108.9,276.7M28.7,448 L122.2,384 L240.5,427.4M25.5,417.3 L121.7,355.8 L243.2,397.4M22.2,384.8 L121.2,326.3 L245.9,365.7M18.6,350.4 L120.7,295.3 L248.9,332.3" fill="none" stroke="#f6f6f6" stroke-width="0.8"/><path d="M129.1,398.2 L127.7,272.9M142.6,403.3 L142.7,276.9M156.5,408.6 L158.2,281.1M170.8,413.9 L174,285.3M185.4,419.4 L190.3,289.7M200.3,425.1 L207.1,294.1M215.7,430.9 L224.4,298.7M231.4,436.8 L242.1,303.5M36.6,456.1 L23.4,319.4M49.4,447.1 L38,312.1M61.7,438.4 L52.1,305.1M73.6,430 L65.6,298.3M85.1,421.9 L78.6,291.8M96.2,414.1 L91,285.6M107,406.5 L103.1,279.6M117.3,399.2 L114.7,273.8M27.1,432.9 L122,370.1 L241.8,412.6M23.9,401.3 L121.5,341.3 L244.5,381.8M20.4,367.8 L121,311 L247.4,349.2M16.8,332.4 L120.4,279.2 L250.4,314.8" fill="none" stroke="#ededed" stroke-width="1"/><g fill="none" stroke="#858585" stroke-width="0.65"><path d="M15.8,323.2 L120.3,271 L251.2,305.9"/><path d="M122.4,395.7 L120.3,271" stroke="#999"/><path d="M30,460.8 L15.8,323.2" stroke-dasharray="3 2" stroke="#888"/><path d="M30,460.8 L122.4,395.7 L239.4,439.8" stroke="#bbb"/></g><g class="bars"><polygon class="Lnavy0" points="119.1,402.2 124.7,404.4 124.7,402.3 119.1,400.2"/><polygon class="Rnavy0" points="124.7,404.4 128.9,401.4 128.9,399.3 124.7,402.3"/><polygon class="Tnavy" points="119.1,400.2 124.7,402.3 128.9,399.3 123.3,397.2"/><polygon class="Lnavy0" points="132.7,407.5 138.4,409.7 138.4,407.4 132.7,405.2"/><polygon class="Rnavy0" points="138.4,409.7 142.6,406.5 142.6,404.3 138.4,407.4"/><polygon class="Tnavy" points="132.7,405.2 138.4,407.4 142.6,404.3 136.9,402.1"/><polygon class="Lnavy0" points="146.6,412.8 152.5,415.1 152.5,408.3 146.6,406.1"/><polygon class="Rnavy0" points="152.5,415.1 156.6,411.9 156.7,405.2 152.5,408.3"/><polygon class="Tnavy" points="146.6,406.1 152.5,408.3 156.7,405.2 150.8,402.9"/><polygon class="Lnavy0" points="160.8,418.3 166.9,420.6 167,413.9 161,411.6"/><polygon class="Rnavy0" points="166.9,420.6 170.9,417.3 171.1,410.7 167,413.9"/><polygon class="Tnavy" points="161,411.6 167,413.9 171.1,410.7 165.1,408.4"/><polygon class="Lnavy1" points="175.5,423.9 181.6,426.3 182.4,403.6 176.1,401.3"/><polygon class="Rnavy1" points="181.6,426.3 185.6,422.9 186.5,400.4 182.4,403.6"/><polygon class="Tnavy" points="176.1,401.3 182.4,403.6 186.5,400.4 180.2,398.1"/><polygon class="Lnavy2" points="190.4,429.6 196.8,432.1 198.9,388.4 192.3,386.1"/><polygon class="Rnavy2" points="196.8,432.1 200.7,428.7 203,385.2 198.9,388.4"/><polygon class="Tnavy" points="192.3,386.1 198.9,388.4 203,385.2 196.4,383"/><polygon class="Lnavy2" points="205.8,435.6 212.3,438 217.6,354.3 210.6,352.1"/><polygon class="Rnavy2" points="212.3,438 216.2,434.5 221.7,351.2 217.6,354.3"/><polygon class="Tnavy" points="210.6,352.1 217.6,354.3 221.7,351.2 214.8,349.1"/><polygon class="Lnavy2" points="221.6,441.6 228.2,444.2 238.6,312 231.1,309.9"/><polygon class="Rnavy2" points="228.2,444.2 232.1,440.6 242.8,309 238.6,312"/><polygon class="Tnavy" points="231.1,309.9 238.6,312 242.8,309 235.3,307"/><polygon class="Lolive0" points="108.7,409.7 114.3,411.9 114.3,410.7 108.7,408.5"/><polygon class="Rolive0" points="114.3,411.9 118.7,408.7 118.7,407.6 114.3,410.7"/><polygon class="Tolive" points="108.7,408.5 114.3,410.7 118.7,407.6 113,405.4"/><polygon class="Lolive0" points="122.4,415 128.1,417.3 128.1,416.2 122.3,413.9"/><polygon class="Rolive0" points="128.1,417.3 132.4,414.1 132.4,413 128.1,416.2"/><polygon class="Tolive" points="122.3,413.9 128.1,416.2 132.4,413 126.7,410.7"/><polygon class="Lolive0" points="136.4,420.6 142.3,422.9 142.3,421.7 136.4,419.4"/><polygon class="Rolive0" points="142.3,422.9 146.6,419.6 146.6,418.5 142.3,421.7"/><polygon class="Tolive" points="136.4,419.4 142.3,421.7 146.6,418.5 140.7,416.2"/><polygon class="Lolive0" points="150.8,426.2 156.8,428.6 156.8,427.5 150.8,425.1"/><polygon class="Rolive0" points="156.8,428.6 161,425.3 161.1,424.1 156.8,427.5"/><polygon class="Tolive" points="150.8,425.1 156.8,427.5 161.1,424.1 155,421.7"/><polygon class="Lolive0" points="165.5,432.1 171.7,434.5 171.8,433.3 165.5,430.9"/><polygon class="Rolive0" points="171.7,434.5 175.9,431.1 175.9,429.9 171.8,433.3"/><polygon class="Tolive" points="165.5,430.9 171.8,433.3 175.9,429.9 169.7,427.5"/><polygon class="Lolive0" points="180.6,438 187,440.6 187.1,439.4 180.7,436.8"/><polygon class="Rolive0" points="187,440.6 191.1,437 191.2,435.8 187.1,439.4"/><polygon class="Tolive" points="180.7,436.8 187.1,439.4 191.2,435.8 184.8,433.3"/><polygon class="Lolive0" points="196.1,444.2 202.7,446.7 202.8,445.5 196.2,443"/><polygon class="Rolive0" points="202.7,446.7 206.7,443.1 206.8,441.9 202.8,445.5"/><polygon class="Tolive" points="196.2,443 202.8,445.5 206.8,441.9 200.3,439.4"/><polygon class="Lolive0" points="212.1,450.4 218.8,453.1 218.9,451.9 212.1,449.2"/><polygon class="Rolive0" points="218.8,453.1 222.8,449.4 222.9,448.1 218.9,451.9"/><polygon class="Tolive" points="212.1,449.2 218.9,451.9 222.9,448.1 216.1,445.5"/><polygon class="Lyel0" points="97.9,417.3 103.6,419.6 103.5,416.7 97.8,414.4"/><polygon class="Ryel0" points="103.6,419.6 108.1,416.4 108,413.5 103.5,416.7"/><polygon class="Tyel" points="97.8,414.4 103.5,416.7 108,413.5 102.3,411.2"/><polygon class="Lyel0" points="111.7,422.9 117.5,425.3 117.5,422.9 111.6,420.6"/><polygon class="Ryel0" points="117.5,425.3 122,421.9 121.9,419.6 117.5,422.9"/><polygon class="Tyel" points="111.6,420.6 117.5,422.9 121.9,419.6 116.1,417.3"/><polygon class="Lyel0" points="125.8,428.6 131.8,431.1 131.8,428.1 125.8,425.7"/><polygon class="Ryel0" points="131.8,431.1 136.2,427.6 136.2,424.7 131.8,428.1"/><polygon class="Tyel" points="125.8,425.7 131.8,428.1 136.2,424.7 130.2,422.3"/><polygon class="Lyel0" points="140.3,434.5 146.4,437 146.4,434 140.3,431.5"/><polygon class="Ryel0" points="146.4,437 150.8,433.5 150.8,430.5 146.4,434"/><polygon class="Tyel" points="140.3,431.5 146.4,434 150.8,430.5 144.7,428.1"/><polygon class="Lyel0" points="155.2,440.5 161.5,443.1 161.5,440.1 155.2,437.5"/><polygon class="Ryel0" points="161.5,443.1 165.8,439.5 165.8,436.5 161.5,440.1"/><polygon class="Tyel" points="155.2,437.5 161.5,440.1 165.8,436.5 159.6,434"/><polygon class="Lyel0" points="170.4,446.7 176.9,449.3 177,446.3 170.5,443.7"/><polygon class="Ryel0" points="176.9,449.3 181.1,445.7 181.2,442.6 177,446.3"/><polygon class="Tyel" points="170.5,443.7 177,446.3 181.2,442.6 174.8,440.1"/><polygon class="Lyel0" points="186.1,453.1 192.7,455.8 192.9,452.7 186.2,450"/><polygon class="Ryel0" points="192.7,455.8 196.9,452 197.1,448.9 192.9,452.7"/><polygon class="Tyel" points="186.2,450 192.9,452.7 197.1,448.9 190.4,446.3"/><polygon class="Lyel0" points="202.2,459.6 209,462.4 209.2,459.3 202.4,456.5"/><polygon class="Ryel0" points="209,462.4 213.1,458.5 213.3,455.4 209.2,459.3"/><polygon class="Tyel" points="202.4,456.5 209.2,459.3 213.3,455.4 206.5,452.7"/><polygon class="Lmag0" points="86.8,425.2 92.5,427.6 92.4,425.9 86.7,423.5"/><polygon class="Rmag0" points="92.5,427.6 97.1,424.3 97.1,422.5 92.4,425.9"/><polygon class="Tmag" points="86.7,423.5 92.4,425.9 97.1,422.5 91.4,420.2"/><polygon class="Lmag0" points="100.6,431 106.5,433.5 106.4,431.7 100.6,429.3"/><polygon class="Rmag0" points="106.5,433.5 111.1,430 111.1,428.3 106.4,431.7"/><polygon class="Tmag" points="100.6,429.3 106.4,431.7 111.1,428.3 105.2,425.9"/><polygon class="Lmag0" points="114.9,437 120.9,439.5 120.9,437.7 114.8,435.2"/><polygon class="Rmag0" points="120.9,439.5 125.5,435.9 125.4,434.2 120.9,437.7"/><polygon class="Tmag" points="114.8,435.2 120.9,437.7 125.4,434.2 119.4,431.7"/><polygon class="Lmag0" points="129.5,443.1 135.7,445.6 135.6,443.8 129.5,441.3"/><polygon class="Rmag0" points="135.7,445.6 140.2,442 140.2,440.2 135.6,443.8"/><polygon class="Tmag" points="129.5,441.3 135.6,443.8 140.2,440.2 134,437.7"/><polygon class="Lmag0" points="144.5,449.3 150.8,452 150.8,449.5 144.5,446.9"/><polygon class="Rmag0" points="150.8,452 155.3,448.2 155.3,445.8 150.8,449.5"/><polygon class="Tmag" points="144.5,446.9 150.8,449.5 155.3,445.8 149,443.2"/><polygon class="Lmag0" points="159.9,455.7 166.4,458.5 166.5,454.2 160,451.5"/><polygon class="Rmag0" points="166.4,458.5 170.8,454.6 170.9,450.4 166.5,454.2"/><polygon class="Tmag" points="160,451.5 166.5,454.2 170.9,450.4 164.4,447.7"/><polygon class="Lmag0" points="175.7,462.3 182.4,465.1 182.5,461.4 175.8,458.6"/><polygon class="Rmag0" points="182.4,465.1 186.7,461.2 186.9,457.5 182.5,461.4"/><polygon class="Tmag" points="175.8,458.6 182.5,461.4 186.9,457.5 180.2,454.8"/><polygon class="Lmag0" points="192,469.1 198.8,472 199.1,466.4 192.2,463.5"/><polygon class="Rmag0" points="198.8,472 203.1,467.9 203.4,462.4 199.1,466.4"/><polygon class="Tmag" points="192.2,463.5 199.1,466.4 203.4,462.4 196.5,459.6"/><polygon class="Lcyan0" points="75.2,433.5 81,435.9 80.9,434.2 75.1,431.7"/><polygon class="Rcyan0" points="81,435.9 85.8,432.5 85.7,430.7 80.9,434.2"/><polygon class="Tcyan" points="75.1,431.7 80.9,434.2 85.7,430.7 80,428.2"/><polygon class="Lcyan0" points="89.2,439.5 95.1,442 95,440.2 89.1,437.7"/><polygon class="Rcyan0" points="95.1,442 99.9,438.4 99.8,436.6 95,440.2"/><polygon class="Tcyan" points="89.1,437.7 95,440.2 99.8,436.6 93.9,434.1"/><polygon class="Lcyan0" points="103.5,445.6 109.6,448.2 109.5,446.4 103.5,443.8"/><polygon class="Rcyan0" points="109.6,448.2 114.3,444.6 114.3,442.7 109.5,446.4"/><polygon class="Tcyan" points="103.5,443.8 109.5,446.4 114.3,442.7 108.2,440.2"/><polygon class="Lcyan0" points="118.3,451.9 124.5,454.6 124.5,452.8 118.2,450.1"/><polygon class="Rcyan0" points="124.5,454.6 129.2,450.8 129.2,449 124.5,452.8"/><polygon class="Tcyan" points="118.2,450.1 124.5,452.8 129.2,449 122.9,446.4"/><polygon class="Lcyan0" points="133.4,458.4 139.8,461.2 139.8,459.3 133.4,456.6"/><polygon class="Rcyan0" points="139.8,461.2 144.4,457.3 144.4,455.5 139.8,459.3"/><polygon class="Tcyan" points="133.4,456.6 139.8,459.3 144.4,455.5 138,452.8"/><polygon class="Lcyan0" points="148.9,465.1 155.5,467.9 155.5,466.1 148.9,463.2"/><polygon class="Rcyan0" points="155.5,467.9 160.1,463.9 160.1,462.1 155.5,466.1"/><polygon class="Tcyan" points="148.9,463.2 155.5,466.1 160.1,462.1 153.5,459.3"/><polygon class="Lcyan0" points="164.9,471.9 171.7,474.8 171.7,473 164.9,470.1"/><polygon class="Rcyan0" points="171.7,474.8 176.2,470.8 176.2,468.9 171.7,473"/><polygon class="Tcyan" points="164.9,470.1 171.7,473 176.2,468.9 169.5,466.1"/><polygon class="Lcyan0" points="181.3,479 188.3,482 188.4,480.1 181.4,477.1"/><polygon class="Rcyan0" points="188.3,482 192.7,477.8 192.8,475.9 188.4,480.1"/><polygon class="Tcyan" points="181.4,477.1 188.4,480.1 192.8,475.9 185.9,473"/><polygon class="Lblue0" points="63.2,442 69,444.5 68.9,442.7 63.1,440.2"/><polygon class="Rblue0" points="69,444.5 74,440.9 73.9,439.1 68.9,442.7"/><polygon class="Tblue" points="63.1,440.2 68.9,442.7 73.9,439.1 68.1,436.6"/><polygon class="Lblue0" points="77.3,448.2 83.3,450.8 83.2,449 77.2,446.4"/><polygon class="Rblue0" points="83.3,450.8 88.2,447.1 88.1,445.3 83.2,449"/><polygon class="Tblue" points="77.2,446.4 83.2,449 88.1,445.3 82.2,442.7"/><polygon class="Lblue0" points="91.8,454.6 97.9,457.3 97.8,455.5 91.7,452.8"/><polygon class="Rblue0" points="97.9,457.3 102.8,453.5 102.7,451.7 97.8,455.5"/><polygon class="Tblue" points="91.7,452.8 97.8,455.5 102.7,451.7 96.6,449"/><polygon class="Lblue0" points="106.6,461.1 112.9,463.9 112.8,462.1 106.5,459.3"/><polygon class="Rblue0" points="112.9,463.9 117.8,460 117.7,458.2 112.8,462.1"/><polygon class="Tblue" points="106.5,459.3 112.8,462.1 117.7,458.2 111.4,455.4"/><polygon class="Lblue0" points="121.9,467.9 128.3,470.7 128.3,468.3 121.8,465.4"/><polygon class="Rblue0" points="128.3,470.7 133.1,466.7 133.1,464.3 128.3,468.3"/><polygon class="Tblue" points="121.8,465.4 128.3,468.3 133.1,464.3 126.7,461.5"/><polygon class="Lblue0" points="137.5,474.8 144.2,477.7 144.2,474 137.5,471.1"/><polygon class="Rblue0" points="144.2,477.7 148.9,473.6 149,469.9 144.2,474"/><polygon class="Tblue" points="137.5,471.1 144.2,474 149,469.9 142.3,467"/><polygon class="Lblue0" points="153.7,481.9 160.5,485 160.6,480.5 153.7,477.5"/><polygon class="Rblue0" points="160.5,485 165.2,480.7 165.3,476.3 160.6,480.5"/><polygon class="Tblue" points="153.7,477.5 160.6,480.5 165.3,476.3 158.5,473.4"/><polygon class="Lblue0" points="170.3,489.3 177.3,492.4 177.4,489.8 170.3,486.7"/><polygon class="Rblue0" points="177.3,492.4 181.9,488 182,485.5 177.4,489.8"/><polygon class="Tblue" points="170.3,486.7 177.4,489.8 182,485.5 175,482.4"/><polygon class="Lgreen0" points="50.8,450.8 56.7,453.5 56.5,451.6 50.7,449"/><polygon class="Rgreen0" points="56.7,453.5 61.8,449.7 61.7,447.9 56.5,451.6"/><polygon class="Tgreen" points="50.7,449 56.5,451.6 61.7,447.9 55.9,445.3"/><polygon class="Lgreen0" points="65,457.3 71,460 70.9,458.2 64.9,455.4"/><polygon class="Rgreen0" points="71,460 76.1,456.1 76,454.3 70.9,458.2"/><polygon class="Tgreen" points="64.9,455.4 70.9,458.2 76,454.3 70,451.6"/><polygon class="Lgreen0" points="79.6,463.9 85.7,466.7 85.6,464.8 79.4,462"/><polygon class="Rgreen0" points="85.7,466.7 90.8,462.7 90.7,460.9 85.6,464.8"/><polygon class="Tgreen" points="79.4,462 85.6,464.8 90.7,460.9 84.6,458.1"/><polygon class="Lgreen0" points="94.5,470.7 100.8,473.6 100.8,471.7 94.4,468.8"/><polygon class="Rgreen0" points="100.8,473.6 105.9,469.5 105.8,467.7 100.8,471.7"/><polygon class="Tgreen" points="94.4,468.8 100.8,471.7 105.8,467.7 99.5,464.8"/><polygon class="Lgreen0" points="109.9,477.7 116.4,480.7 116.3,478.2 109.8,475.2"/><polygon class="Rgreen0" points="116.4,480.7 121.4,476.5 121.4,474 116.3,478.2"/><polygon class="Tgreen" points="109.8,475.2 116.3,478.2 121.4,474 114.9,471.1"/><polygon class="Lgreen0" points="125.7,484.9 132.4,488 132.4,485.4 125.7,482.4"/><polygon class="Rgreen0" points="132.4,488 137.4,483.7 137.3,481.2 132.4,485.4"/><polygon class="Tgreen" points="125.7,482.4 132.4,485.4 137.3,481.2 130.7,478.2"/><polygon class="Lgreen0" points="142,492.3 148.9,495.5 148.9,491.7 142,488.5"/><polygon class="Rgreen0" points="148.9,495.5 153.8,491.1 153.8,487.3 148.9,491.7"/><polygon class="Tgreen" points="142,488.5 148.9,491.7 153.8,487.3 146.9,484.2"/><polygon class="Lgreen0" points="158.7,500 165.8,503.2 165.9,501.3 158.8,498"/><polygon class="Rgreen0" points="165.8,503.2 170.7,498.6 170.7,496.7 165.9,501.3"/><polygon class="Tgreen" points="158.8,498 165.9,501.3 170.7,496.7 163.6,493.6"/><polygon class="Lred0" points="37.9,460 43.8,462.7 43.7,460.9 37.8,458.1"/><polygon class="Rred0" points="43.8,462.7 49.2,458.8 49.1,457 43.7,460.9"/><polygon class="Tred" points="37.8,458.1 43.7,460.9 49.1,457 43.2,454.3"/><polygon class="Lred0" points="52.2,466.7 58.2,469.5 58.1,467.6 52.1,464.8"/><polygon class="Rred0" points="58.2,469.5 63.6,465.5 63.5,463.7 58.1,467.6"/><polygon class="Tred" points="52.1,464.8 58.1,467.6 63.5,463.7 57.4,460.9"/><polygon class="Lred0" points="66.9,473.5 73.1,476.5 73,474.6 66.7,471.7"/><polygon class="Rred0" points="73.1,476.5 78.4,472.4 78.3,470.5 73,474.6"/><polygon class="Tred" points="66.7,471.7 73,474.6 78.3,470.5 72.1,467.6"/><polygon class="Lred0" points="81.9,480.6 88.3,483.6 88.2,481.8 81.8,478.8"/><polygon class="Rred0" points="88.3,483.6 93.6,479.4 93.5,477.5 88.2,481.8"/><polygon class="Tred" points="81.8,478.8 88.2,481.8 93.5,477.5 87.1,474.6"/><polygon class="Lred0" points="97.5,487.9 104,491 103.9,488.5 97.3,485.4"/><polygon class="Rred0" points="104,491 109.2,486.7 109.1,484.2 103.9,488.5"/><polygon class="Tred" points="97.3,485.4 103.9,488.5 109.1,484.2 102.6,481.1"/><polygon class="Lred0" points="113.4,495.4 120.2,498.6 120.1,495.4 113.3,492.2"/><polygon class="Rred0" points="120.2,498.6 125.3,494.1 125.3,491 120.1,495.4"/><polygon class="Tred" points="113.3,492.2 120.1,495.4 125.3,491 118.5,487.8"/><polygon class="Lred0" points="129.8,503.1 136.8,506.4 136.8,502.6 129.8,499.3"/><polygon class="Rred0" points="136.8,506.4 141.9,501.8 141.9,498 136.8,502.6"/><polygon class="Tred" points="129.8,499.3 136.8,502.6 141.9,498 134.9,494.8"/><polygon class="Lred0" points="146.8,511.1 153.9,514.5 154,511.9 146.8,508.5"/><polygon class="Rred0" points="153.9,514.5 158.9,509.7 159,507.2 154,511.9"/><polygon class="Tred" points="146.8,508.5 154,511.9 159,507.2 151.8,503.9"/></g><g fill="none" stroke="#000" stroke-width="1.45" stroke-linecap="square"><path d="M30,460.8 L155.5,520.3 L239.4,439.8 L251.2,305.9M37,464.1 L34.3,466.1M51.4,470.9 L48.6,472.9M66.2,477.9 L63.4,480M81.4,485.1 L78.7,487.3M97,492.5 L94.3,494.8M113.1,500.2 L110.4,502.5M129.7,508 L127.1,510.4M146.7,516.1 L144.2,518.6M161.5,514.5 L164.6,515.9M173.3,503.2 L176.4,504.6M184.6,492.4 L187.6,493.7M195.4,482 L198.4,483.3M205.9,472 L208.8,473.2M215.9,462.4 L218.8,463.5M225.6,453.1 L228.5,454.2M234.9,444.2 L237.8,445.3M241.8,412.6 L245.2,413.4M244.5,381.8 L247.9,382.6M247.4,349.2 L250.8,350M250.4,314.8 L253.8,315.6M240.5,427.4 L242.6,427.9M243.2,397.4 L245.3,397.9M245.9,365.7 L248,366.2M248.9,332.3 L251,332.8"/></g><g font-family="Liberation Sans, sans-serif" font-weight="bold" fill="#000" stroke="#000" stroke-width="0.25"><text transform="translate(246.1,420.1) rotate(8)" font-size="12.3">100</text><text transform="translate(248.8,389.3) rotate(8)" font-size="12.3">200</text><text transform="translate(251.7,356.7) rotate(8)" font-size="12.3">300</text><text transform="translate(254.7,322.3) rotate(8)" font-size="12.3">400</text><text transform="translate(34.9,469.7) rotate(-33) scale(1.08,0.96)" text-anchor="end" font-size="11">220</text><text transform="translate(49.2,476.5) rotate(-33) scale(1.08,0.96)" text-anchor="end" font-size="11">190</text><text transform="translate(64,483.6) rotate(-33) scale(1.08,0.96)" text-anchor="end" font-size="11">170</text><text transform="translate(79.3,490.9) rotate(-33) scale(1.08,0.96)" text-anchor="end" font-size="11">150</text><text transform="translate(94.9,498.4) rotate(-33) scale(1.08,0.96)" text-anchor="end" font-size="11">130</text><text transform="translate(111,506.1) rotate(-33) scale(1.08,0.96)" text-anchor="end" font-size="11">110</text><text transform="translate(127.7,514) rotate(-33) scale(1.08,0.96)" text-anchor="end" font-size="11">90</text><text transform="translate(144.8,522.2) rotate(-33) scale(1.08,0.96)" text-anchor="end" font-size="11">70</text><text transform="matrix(1.370,0.069,0,0.900,166.6,522.4)" font-size="12">Acetic Acid</text><text transform="matrix(1.347,0.067,0,0.888,178.4,510.9)" font-size="12">Acetone</text><text transform="matrix(1.323,0.066,0,0.876,189.7,499.9)" font-size="12">Ammonia</text><text transform="matrix(1.300,0.065,0,0.864,200.5,489.4)" font-size="12">Methanol</text><text transform="matrix(1.276,0.064,0,0.852,211,479.2)" font-size="12">Acetaldehyde</text><text transform="matrix(1.253,0.063,0,0.840,221,469.4)" font-size="12">Ethanol</text><text transform="matrix(1.229,0.061,0,0.828,230.7,460)" font-size="12">Formic Acid</text><text transform="matrix(1.206,0.060,0,0.816,240,450.9)" font-size="12">Formaldehyde</text><text transform="translate(63.5,513.5) rotate(26.5) skewX(-14)" text-anchor="middle" font-size="12.7">Temperature <tspan font-weight="normal" font-family="Liberation Sans, Noto Sans CJK SC, sans-serif">(℃)</tspan></text><text transform="translate(285.1,380) rotate(-83)" text-anchor="middle" font-style="italic" font-size="12.7">Response(Ra/Rg)</text><text x="238.9" y="289.4" font-size="14.6" stroke="none">ZSO/ZQD-0.10</text><text x="6.5" y="297.5" font-size="27.3" stroke="none">d</text></g><path d="M485.3,403.8 L485.5,277.4M507.7,412.3 L510.5,284M531.1,421.1 L536.6,291M555.4,430.3 L563.9,298.3M391.9,446.2 L380.8,311.4M411.4,432.5 L402.9,300.3M429.8,419.6 L423.7,289.9M447.2,407.3 L443.2,280.2M370.5,452.7 L463.6,388.2 L581.4,431.9M368.3,431.9 L463.2,369.2 L583.2,411.7M366.1,410.4 L462.9,349.6 L585,390.7M363.8,388 L462.6,329.3 L587,368.9M361.4,364.8 L462.2,308.2 L589,346.2M358.9,340.5 L461.9,286.5 L591,322.7" fill="none" stroke="#f6f6f6" stroke-width="0.8"/><path d="M474.4,399.7 L473.4,274.1M496.4,408 L497.9,280.7M519.3,416.7 L523.4,287.5M543.1,425.6 L550.1,294.6M567.9,435 L578.1,302M381.8,453.4 L369.1,317.2M401.8,439.3 L392,305.7M420.7,425.9 L413.4,295M438.6,413.3 L433.6,285M455.6,401.4 L452.5,275.5M369.4,442.4 L463.4,378.8 L582.3,421.9M367.2,421.3 L463.1,359.5 L584.1,401.3M365,399.3 L462.7,339.5 L586,379.9M362.6,376.5 L462.4,318.8 L588,357.7M360.2,352.8 L462,297.5 L590,334.6M357.6,328.1 L461.7,275.3 L592.1,310.6" fill="none" stroke="#ededed" stroke-width="1"/><g fill="none" stroke="#858585" stroke-width="0.65"><path d="M357.1,323.2 L461.6,271 L592.5,305.9"/><path d="M463.7,395.7 L461.6,271" stroke="#999"/><path d="M371.3,460.8 L357.1,323.2" stroke-dasharray="3 2" stroke="#888"/><path d="M371.3,460.8 L463.7,395.7 L580.7,439.8" stroke="#bbb"/></g><g class="bars"><polygon class="Lred0" points="455.8,404.7 461.4,406.9 461.4,404.6 455.8,402.4"/><polygon class="Rred0" points="461.4,406.9 467.2,402.7 467.2,400.5 461.4,404.6"/><polygon class="Tred" points="455.8,402.4 461.4,404.6 467.2,400.5 461.5,398.3"/><polygon class="Lred0" points="467.9,409.4 473.6,411.6 473.6,409.3 467.8,407.1"/><polygon class="Rred0" points="473.6,411.6 479.3,407.4 479.3,405.1 473.6,409.3"/><polygon class="Tred" points="467.8,407.1 473.6,409.3 479.3,405.1 473.6,402.9"/><polygon class="Lred0" points="480.2,414.1 486.1,416.4 486.1,413.5 480.2,411.2"/><polygon class="Rred0" points="486.1,416.4 491.7,412.1 491.7,409.2 486.1,413.5"/><polygon class="Tred" points="480.2,411.2 486.1,413.5 491.7,409.2 485.9,407"/><polygon class="Lred0" points="492.8,419 498.8,421.4 498.9,417.9 492.8,415.5"/><polygon class="Rred0" points="498.8,421.4 504.4,417 504.5,413.5 498.9,417.9"/><polygon class="Tred" points="492.8,415.5 498.9,417.9 504.5,413.5 498.4,411.2"/><polygon class="Lred0" points="505.7,424 511.8,426.4 511.9,422.6 505.8,420.3"/><polygon class="Rred0" points="511.8,426.4 517.3,421.9 517.5,418.2 511.9,422.6"/><polygon class="Tred" points="505.8,420.3 511.9,422.6 517.5,418.2 511.3,415.8"/><polygon class="Lred0" points="518.9,429.1 525.2,431.6 525.3,427.8 519,425.4"/><polygon class="Rred0" points="525.2,431.6 530.6,427 530.8,423.2 525.3,427.8"/><polygon class="Tred" points="519,425.4 525.3,427.8 530.8,423.2 524.5,420.8"/><polygon class="Lred0" points="532.3,434.4 538.8,436.9 539,433.1 532.5,430.6"/><polygon class="Rred0" points="538.8,436.9 544.1,432.2 544.4,428.4 539,433.1"/><polygon class="Tred" points="532.5,430.6 539,433.1 544.4,428.4 537.9,425.9"/><polygon class="Lred0" points="546.1,439.7 552.7,442.3 553,438.7 546.3,436.1"/><polygon class="Rred0" points="552.7,442.3 558,437.5 558.2,433.9 553,438.7"/><polygon class="Tred" points="546.3,436.1 553,438.7 558.2,433.9 551.7,431.4"/><polygon class="Lred0" points="560.2,445.2 567,447.8 567.2,444.8 560.5,442.2"/><polygon class="Rred0" points="567,447.8 572.2,442.9 572.4,439.9 567.2,444.8"/><polygon class="Tred" points="560.5,442.2 567.2,444.8 572.4,439.9 565.7,437.3"/><polygon class="Lgreen2" points="438.7,416.8 444.4,419.1 443.5,392.8 437.7,390.6"/><polygon class="Rgreen2" points="444.4,419.1 450.5,414.7 449.7,388.6 443.5,392.8"/><polygon class="Tgreen" points="437.7,390.6 443.5,392.8 449.7,388.6 443.9,386.4"/><polygon class="Lgreen2" points="450.9,421.7 456.8,424.1 454.5,327.9 448.2,325.9"/><polygon class="Rgreen2" points="456.8,424.1 462.8,419.6 461.1,324.1 454.5,327.9"/><polygon class="Tgreen" points="448.2,325.9 454.5,327.9 461.1,324.1 454.8,322.1"/><polygon class="Lgreen2" points="463.4,426.8 469.4,429.2 468.9,386.3 462.7,384"/><polygon class="Rgreen2" points="469.4,429.2 475.3,424.7 475.1,382 468.9,386.3"/><polygon class="Tgreen" points="462.7,384 468.9,386.3 475.1,382 468.9,379.8"/><polygon class="Lgreen2" points="476.2,432 482.3,434.4 482.3,401.2 476,398.9"/><polygon class="Rgreen2" points="482.3,434.4 488.2,429.8 488.3,396.8 482.3,401.2"/><polygon class="Tgreen" points="476,398.9 482.3,401.2 488.3,396.8 482.1,394.4"/><polygon class="Lgreen1" points="489.3,437.3 495.5,439.8 495.7,420 489.4,417.5"/><polygon class="Rgreen1" points="495.5,439.8 501.3,435 501.7,415.3 495.7,420"/><polygon class="Tgreen" points="489.4,417.5 495.7,420 501.7,415.3 495.3,412.9"/><polygon class="Lgreen1" points="502.6,442.7 509,445.3 509.3,432.5 502.9,429.9"/><polygon class="Rgreen1" points="509,445.3 514.8,440.4 515.1,427.7 509.3,432.5"/><polygon class="Tgreen" points="502.9,429.9 509.3,432.5 515.1,427.7 508.7,425.2"/><polygon class="Lgreen1" points="516.3,448.2 522.9,450.9 523.3,439.3 516.7,436.6"/><polygon class="Rgreen1" points="522.9,450.9 528.5,445.9 529,434.3 523.3,439.3"/><polygon class="Tgreen" points="516.7,436.6 523.3,439.3 529,434.3 522.4,431.8"/><polygon class="Lgreen0" points="530.3,453.9 537,456.6 537.4,449.7 530.6,447.1"/><polygon class="Rgreen0" points="537,456.6 542.6,451.5 543,444.7 537.4,449.7"/><polygon class="Tgreen" points="530.6,447.1 537.4,449.7 543,444.7 536.3,442"/><polygon class="Lgreen0" points="544.7,459.7 551.5,462.5 551.9,457.3 545,454.5"/><polygon class="Rgreen0" points="551.5,462.5 557,457.3 557.4,452.1 551.9,457.3"/><polygon class="Tgreen" points="545,454.5 551.9,457.3 557.4,452.1 550.5,449.4"/><polygon class="Lblue2" points="420.7,429.6 426.5,432 422.8,360 416.7,357.8"/><polygon class="Rblue2" points="426.5,432 432.9,427.4 429.7,355.8 422.8,360"/><polygon class="Tblue" points="416.7,357.8 422.8,360 429.7,355.8 423.6,353.7"/><polygon class="Lblue2" points="433.1,434.8 439,437.3 433.7,305.3 427.1,303.3"/><polygon class="Rblue2" points="439,437.3 445.3,432.6 440.9,301.5 433.7,305.3"/><polygon class="Tblue" points="427.1,303.3 433.7,305.3 440.9,301.5 434.3,299.5"/><polygon class="Lblue2" points="445.7,440.2 451.7,442.7 449.5,365.3 443.1,363.1"/><polygon class="Rblue2" points="451.7,442.7 458,437.9 456.3,361 449.5,365.3"/><polygon class="Tblue" points="443.1,363.1 449.5,365.3 456.3,361 449.9,358.8"/><polygon class="Lblue1" points="458.6,445.7 464.8,448.3 464.4,421.7 458,419.2"/><polygon class="Rblue1" points="464.8,448.3 471.1,443.3 470.8,417 464.4,421.7"/><polygon class="Tblue" points="458,419.2 464.4,421.7 470.8,417 464.5,414.5"/><polygon class="Lblue1" points="471.9,451.3 478.2,453.9 478.1,440.4 471.7,437.8"/><polygon class="Rblue1" points="478.2,453.9 484.4,448.9 484.4,435.5 478.1,440.4"/><polygon class="Tblue" points="471.7,437.8 478.1,440.4 484.4,435.5 478,432.9"/><polygon class="Lblue0" points="485.4,457 491.9,459.8 492,452.4 485.4,449.7"/><polygon class="Rblue0" points="491.9,459.8 498,454.6 498.1,447.3 492,452.4"/><polygon class="Tblue" points="485.4,449.7 492,452.4 498.1,447.3 491.6,444.6"/><polygon class="Lblue0" points="499.3,462.9 506,465.7 506.1,460.1 499.4,457.4"/><polygon class="Rblue0" points="506,465.7 512,460.4 512.1,454.9 506.1,460.1"/><polygon class="Tblue" points="499.4,457.4 506.1,460.1 512.1,454.9 505.5,452.1"/><polygon class="Lblue0" points="513.5,468.9 520.4,471.8 520.5,466.2 513.7,463.3"/><polygon class="Rblue0" points="520.4,471.8 526.3,466.4 526.5,460.8 520.5,466.2"/><polygon class="Tblue" points="513.7,463.3 520.5,466.2 526.5,460.8 519.7,458"/><polygon class="Lblue0" points="528.1,475.1 535.1,478.1 535.3,473.1 528.3,470.1"/><polygon class="Rblue0" points="535.1,478.1 541,472.5 541.2,467.5 535.3,473.1"/><polygon class="Tblue" points="528.3,470.1 535.3,473.1 541.2,467.5 534.3,464.6"/><polygon class="Lcyan2" points="401.6,443.1 407.5,445.7 403.9,393.6 397.8,391.2"/><polygon class="Rcyan2" points="407.5,445.7 414.2,440.8 411,389.1 403.9,393.6"/><polygon class="Tcyan" points="397.8,391.2 403.9,393.6 411,389.1 405,386.7"/><polygon class="Lcyan2" points="414.1,448.7 420.1,451.3 415.1,363.6 408.6,361.2"/><polygon class="Rcyan2" points="420.1,451.3 426.8,446.3 422.4,359.2 415.1,363.6"/><polygon class="Tcyan" points="408.6,361.2 415.1,363.6 422.4,359.2 416,356.9"/><polygon class="Lcyan2" points="426.9,454.4 433,457.1 430.5,401 424,398.5"/><polygon class="Rcyan2" points="433,457.1 439.7,452 437.5,396.3 430.5,401"/><polygon class="Tcyan" points="424,398.5 430.5,401 437.5,396.3 431.1,393.8"/><polygon class="Lcyan2" points="440,460.2 446.3,462.9 445.2,431 438.7,428.4"/><polygon class="Rcyan2" points="446.3,462.9 452.9,457.7 452,426 445.2,431"/><polygon class="Tcyan" points="438.7,428.4 445.2,431 452,426 445.6,423.4"/><polygon class="Lcyan1" points="453.4,466.1 459.8,469 459.5,453.5 453,450.7"/><polygon class="Rcyan1" points="459.8,469 466.4,463.6 466.2,448.2 459.5,453.5"/><polygon class="Tcyan" points="453,450.7 459.5,453.5 466.2,448.2 459.7,445.4"/><polygon class="Lcyan0" points="467.2,472.2 473.7,475.2 473.7,467.7 467.1,464.8"/><polygon class="Rcyan0" points="473.7,475.2 480.2,469.7 480.2,462.2 473.7,467.7"/><polygon class="Tcyan" points="467.1,464.8 473.7,467.7 480.2,462.2 473.6,459.4"/><polygon class="Lcyan0" points="481.3,478.5 488,481.5 488,475.8 481.2,472.9"/><polygon class="Rcyan0" points="488,481.5 494.4,475.9 494.5,470.2 488,475.8"/><polygon class="Tcyan" points="481.2,472.9 488,475.8 494.5,470.2 487.7,467.3"/><polygon class="Lcyan0" points="495.7,484.9 502.6,488 502.7,484.2 495.7,481.1"/><polygon class="Rcyan0" points="502.6,488 509,482.2 509,478.4 502.7,484.2"/><polygon class="Tcyan" points="495.7,481.1 502.7,484.2 509,478.4 502.1,475.4"/><polygon class="Lcyan0" points="510.5,491.5 517.6,494.6 517.7,491.5 510.6,488.3"/><polygon class="Rcyan0" points="517.6,494.6 523.9,488.7 524,485.6 517.7,491.5"/><polygon class="Tcyan" points="510.6,488.3 517.7,491.5 524,485.6 516.9,482.5"/><polygon class="Lmag2" points="381.4,457.5 387.3,460.2 383.3,414.7 377.2,412.1"/><polygon class="Rmag2" points="387.3,460.2 394.5,455 390.8,409.8 383.3,414.7"/><polygon class="Tmag" points="377.2,412.1 383.3,414.7 390.8,409.8 384.7,407.2"/><polygon class="Lmag2" points="394,463.4 400.1,466.2 394.2,389.7 387.8,387.2"/><polygon class="Rmag2" points="400.1,466.2 407.2,460.9 401.9,384.9 394.2,389.7"/><polygon class="Tmag" points="387.8,387.2 394.2,389.7 401.9,384.9 395.5,382.4"/><polygon class="Lmag2" points="407,469.4 413.2,472.3 409.7,419.6 403.3,416.9"/><polygon class="Rmag2" points="413.2,472.3 420.3,466.9 417.2,414.5 409.7,419.6"/><polygon class="Tmag" points="403.3,416.9 409.7,419.6 417.2,414.5 410.8,411.8"/><polygon class="Lmag2" points="420.2,475.6 426.6,478.5 424.2,434.7 417.7,431.9"/><polygon class="Rmag2" points="426.6,478.5 433.6,473 431.6,429.4 424.2,434.7"/><polygon class="Tmag" points="417.7,431.9 424.2,434.7 431.6,429.4 425,426.7"/><polygon class="Lmag2" points="433.8,481.9 440.3,485 439,451.6 432.3,448.7"/><polygon class="Rmag2" points="440.3,485 447.3,479.2 446.2,446.1 439,451.6"/><polygon class="Tmag" points="432.3,448.7 439,451.6 446.2,446.1 439.5,443.2"/><polygon class="Lmag1" points="447.7,488.4 454.4,491.5 453.8,468.8 447,465.8"/><polygon class="Rmag1" points="454.4,491.5 461.3,485.7 460.9,463.1 453.8,468.8"/><polygon class="Tmag" points="447,465.8 453.8,468.8 460.9,463.1 454.1,460.2"/><polygon class="Lmag1" points="462,495.1 468.9,498.3 468.6,480.5 461.7,477.3"/><polygon class="Rmag1" points="468.9,498.3 475.7,492.3 475.6,474.6 468.6,480.5"/><polygon class="Tmag" points="461.7,477.3 468.6,480.5 475.6,474.6 468.7,471.5"/><polygon class="Lmag1" points="476.7,501.9 483.7,505.2 483.7,494.2 476.6,491"/><polygon class="Rmag1" points="483.7,505.2 490.5,499.1 490.6,488.1 483.7,494.2"/><polygon class="Tmag" points="476.6,491 483.7,494.2 490.6,488.1 483.5,485"/><polygon class="Lmag0" points="491.8,509 499,512.3 499.1,506.6 491.8,503.3"/><polygon class="Rmag0" points="499,512.3 505.6,506 505.8,500.3 499.1,506.6"/><polygon class="Tmag" points="491.8,503.3 499.1,506.6 505.8,500.3 498.5,497.1"/></g><g fill="none" stroke="#000" stroke-width="1.45" stroke-linecap="square"><path d="M371.3,460.8 L496.8,520.3 L580.7,439.8 L592.5,305.9M377.5,463.7 L374.8,465.7M390.3,469.8 L387.5,471.8M403.3,476 L400.6,478M416.7,482.3 L414,484.4M430.4,488.8 L427.7,491M444.5,495.5 L441.8,497.7M458.9,502.3 L456.3,504.6M473.8,509.4 L471.2,511.7M489,516.6 L486.4,519M506.4,511 L509.5,512.5M524.8,493.4 L527.8,494.8M542,476.9 L545,478.2M558.2,461.4 L561.1,462.6M573.4,446.8 L576.3,447.9M582.3,421.9 L585.7,422.7M584.1,401.3 L587.5,402.1M586,379.9 L589.4,380.7M588,357.7 L591.4,358.5M590,334.6 L593.4,335.4M592.1,310.6 L595.5,311.4M581.4,431.9 L583.5,432.4M583.2,411.7 L585.3,412.2M585,390.7 L587.1,391.2M587,368.9 L589.1,369.4M589,346.2 L591.1,346.7M591,322.7 L593.1,323.2"/></g><g font-family="Liberation Sans, sans-serif" font-weight="bold" fill="#000" stroke="#000" stroke-width="0.25"><text transform="translate(586.6,429.4) rotate(8)" font-size="12.3">100</text><text transform="translate(588.4,408.8) rotate(8)" font-size="12.3">200</text><text transform="translate(590.3,387.4) rotate(8)" font-size="12.3">300</text><text transform="translate(592.3,365.2) rotate(8)" font-size="12.3">400</text><text transform="translate(594.3,342.1) rotate(8)" font-size="12.3">500</text><text transform="translate(596.4,318.1) rotate(8)" font-size="12.3">600</text><text transform="translate(375.4,469.3) rotate(-39) scale(1.08,0.96)" text-anchor="end" font-size="12">50</text><text transform="translate(388.1,475.4) rotate(-39) scale(1.08,0.96)" text-anchor="end" font-size="12">70</text><text transform="translate(401.2,481.6) rotate(-39) scale(1.08,0.96)" text-anchor="end" font-size="12">90</text><text transform="translate(414.6,488) rotate(-39) scale(1.08,0.96)" text-anchor="end" font-size="12">110</text><text transform="translate(428.3,494.6) rotate(-39) scale(1.08,0.96)" text-anchor="end" font-size="12">130</text><text transform="translate(442.4,501.3) rotate(-39) scale(1.08,0.96)" text-anchor="end" font-size="12">150</text><text transform="translate(456.9,508.2) rotate(-39) scale(1.08,0.96)" text-anchor="end" font-size="12">170</text><text transform="translate(471.8,515.3) rotate(-39) scale(1.08,0.96)" text-anchor="end" font-size="12">190</text><text transform="translate(487,522.6) rotate(-39) scale(1.08,0.96)" text-anchor="end" font-size="12">220</text><text transform="matrix(1.370,0.069,0,0.900,511.5,518.9)" font-size="12">ZSO/ZONQ-0.20</text><text transform="matrix(1.329,0.066,0,0.879,529.9,501)" font-size="12">ZSO/ZONQ-0.10</text><text transform="matrix(1.288,0.064,0,0.858,547.1,484.2)" font-size="12">ZSO/ZONQ-0.05</text><text transform="matrix(1.247,0.062,0,0.837,563.3,468.4)" font-size="12">ZSO/ZONQ-0.01</text><text transform="matrix(1.206,0.060,0,0.816,578.5,453.5)" font-size="12">ZnSnO3</text><text transform="translate(403.3,515) rotate(26.5) skewX(-14)" text-anchor="middle" font-size="11.7">Temperature <tspan font-weight="normal" font-family="Liberation Sans, Noto Sans CJK SC, sans-serif">(℃)</tspan></text><text transform="translate(626.4,380) rotate(-83)" text-anchor="middle" font-style="italic" font-size="12.7">Response(Ra/Rg)</text><text x="580.2" y="289.4" font-size="14.6" stroke="none"></text><text x="347.8" y="297.5" font-size="27.3" stroke="none">e</text></g><g font-family="Liberation Sans, sans-serif" font-weight="bold" fill="#000"><rect x="729" y="277.6" width="290.29999999999995" height="219.39999999999998" fill="#fff" stroke="#000" stroke-width="1.7"/><text x="744.3" y="514" font-size="12.3" text-anchor="middle">50</text><text x="774.8" y="514" font-size="12.3" text-anchor="middle">70</text><text x="805.3" y="514" font-size="12.3" text-anchor="middle">90</text><text x="835.8" y="514" font-size="12.3" text-anchor="middle">110</text><text x="866.3" y="514" font-size="12.3" text-anchor="middle">130</text><text x="896.8" y="514" font-size="12.3" text-anchor="middle">150</text><text x="927.3" y="514" font-size="12.3" text-anchor="middle">170</text><text x="957.8" y="514" font-size="12.3" text-anchor="middle">190</text><text x="1003.5" y="514" font-size="12.3" text-anchor="middle">220</text><text x="723.5" y="309.6" font-size="12.3" text-anchor="end">1E10</text><text x="723.5" y="364.8" font-size="12.3" text-anchor="end">1E9</text><text x="723.5" y="420" font-size="12.3" text-anchor="end">1E8</text><text x="723.5" y="475.2" font-size="12.3" text-anchor="end">1E7</text><path d="M744.3 497 v3.2M774.8 497 v3.2M805.3 497 v3.2M835.8 497 v3.2M866.3 497 v3.2M896.8 497 v3.2M927.3 497 v3.2M957.8 497 v3.2M1003.5 497 v3.2M729 305.2 h-4.5M729 360.4 h-4.5M729 415.6 h-4.5M729 470.8 h-4.5M729 332.8 h-2.8M729 388 h-2.8M729 443.2 h-2.8" stroke="#000" stroke-width="1.5" fill="none"/><polyline points="744.3,361.9 774.8,395 805.3,410 835.8,436.6 866.3,448 896.8,459.6 927.3,467.7 957.8,474.8 1003.5,486.6" fill="none" stroke="#4d4d4d" stroke-width="1.4"/><rect x="741.5" y="359.1" width="5.6" height="5.6" fill="#4d4d4d"/><rect x="772" y="392.2" width="5.6" height="5.6" fill="#4d4d4d"/><rect x="802.5" y="407.2" width="5.6" height="5.6" fill="#4d4d4d"/><rect x="833" y="433.8" width="5.6" height="5.6" fill="#4d4d4d"/><rect x="863.5" y="445.2" width="5.6" height="5.6" fill="#4d4d4d"/><rect x="894" y="456.8" width="5.6" height="5.6" fill="#4d4d4d"/><rect x="924.5" y="464.9" width="5.6" height="5.6" fill="#4d4d4d"/><rect x="955" y="472" width="5.6" height="5.6" fill="#4d4d4d"/><rect x="1000.7" y="483.8" width="5.6" height="5.6" fill="#4d4d4d"/><path d="M891.2 292.6 H921.8" stroke="#4d4d4d" stroke-width="1.4"/><rect x="903.8" y="289.8" width="5.6" height="5.6" fill="#4d4d4d"/><text x="925.6" y="297.3" font-size="13.2">ZnSnO3</text><polyline points="744.3,323.9 774.8,374.7 805.3,392.4 835.8,403 866.3,412.8 896.8,419.7 927.3,421 957.8,438.7 1003.5,451.4" fill="none" stroke="#e8383d" stroke-width="1.4"/><circle cx="744.3" cy="323.9" r="3.3" fill="#e8383d"/><circle cx="774.8" cy="374.7" r="3.3" fill="#e8383d"/><circle cx="805.3" cy="392.4" r="3.3" fill="#e8383d"/><circle cx="835.8" cy="403" r="3.3" fill="#e8383d"/><circle cx="866.3" cy="412.8" r="3.3" fill="#e8383d"/><circle cx="896.8" cy="419.7" r="3.3" fill="#e8383d"/><circle cx="927.3" cy="421" r="3.3" fill="#e8383d"/><circle cx="957.8" cy="438.7" r="3.3" fill="#e8383d"/><circle cx="1003.5" cy="451.4" r="3.3" fill="#e8383d"/><path d="M891.2 316.5 H921.8" stroke="#e8383d" stroke-width="1.4"/><circle cx="906.6" cy="316.5" r="3.3" fill="#e8383d"/><text x="925.6" y="321.2" font-size="13.2">ZSO/ZQD-0.01</text><polyline points="744.3,354.1 774.8,387.1 805.3,402.8 835.8,426.7 866.3,440.4 896.8,458.1 927.3,458.1 957.8,467 1003.5,469.9" fill="none" stroke="#1f62cf" stroke-width="1.4"/><polygon points="744.3,349.9 748.2,356.7 740.4,356.7" fill="#1f62cf"/><polygon points="774.8,382.9 778.7,389.7 770.9,389.7" fill="#1f62cf"/><polygon points="805.3,398.6 809.2,405.4 801.4,405.4" fill="#1f62cf"/><polygon points="835.8,422.5 839.7,429.3 831.9,429.3" fill="#1f62cf"/><polygon points="866.3,436.2 870.2,443 862.4,443" fill="#1f62cf"/><polygon points="896.8,453.9 900.7,460.7 892.9,460.7" fill="#1f62cf"/><polygon points="927.3,453.9 931.2,460.7 923.4,460.7" fill="#1f62cf"/><polygon points="957.8,462.8 961.7,469.6 953.9,469.6" fill="#1f62cf"/><polygon points="1003.5,465.7 1007.4,472.5 999.6,472.5" fill="#1f62cf"/><path d="M891.2 340.4 H921.8" stroke="#1f62cf" stroke-width="1.4"/><polygon points="906.6,336.2 910.5,343 902.7,343" fill="#1f62cf"/><text x="925.6" y="345.1" font-size="13.2">ZSO/ZQD-0.05</text><polyline points="744.3,313.5 774.8,347.6 805.3,364.5 835.8,390.5 866.3,407.6 896.8,434.7 927.3,444 957.8,465.9 1003.5,478.1" fill="none" stroke="#2a9a62" stroke-width="1.4"/><polygon points="744.3,317.7 748.2,310.9 740.4,310.9" fill="#2a9a62"/><polygon points="774.8,351.8 778.7,345 770.9,345" fill="#2a9a62"/><polygon points="805.3,368.7 809.2,361.9 801.4,361.9" fill="#2a9a62"/><polygon points="835.8,394.7 839.7,387.9 831.9,387.9" fill="#2a9a62"/><polygon points="866.3,411.8 870.2,405 862.4,405" fill="#2a9a62"/><polygon points="896.8,438.9 900.7,432.1 892.9,432.1" fill="#2a9a62"/><polygon points="927.3,448.2 931.2,441.4 923.4,441.4" fill="#2a9a62"/><polygon points="957.8,470.1 961.7,463.3 953.9,463.3" fill="#2a9a62"/><polygon points="1003.5,482.3 1007.4,475.5 999.6,475.5" fill="#2a9a62"/><path d="M891.2 364.3 H921.8" stroke="#2a9a62" stroke-width="1.4"/><polygon points="906.6,368.5 910.5,361.7 902.7,361.7" fill="#2a9a62"/><text x="925.6" y="369" font-size="13.2">ZSO/ZQD-0.10</text><text x="873.5" y="532" font-size="13" text-anchor="middle">Temperature <tspan font-weight="normal" font-family="Liberation Sans, Noto Sans CJK SC, sans-serif">(℃)</tspan></text><text transform="translate(694,388.5) rotate(-90)" font-size="13" text-anchor="middle">Resistance (ohm)</text><text x="688.5" y="297" font-size="27.3">f</text></g></svg></body></html>
